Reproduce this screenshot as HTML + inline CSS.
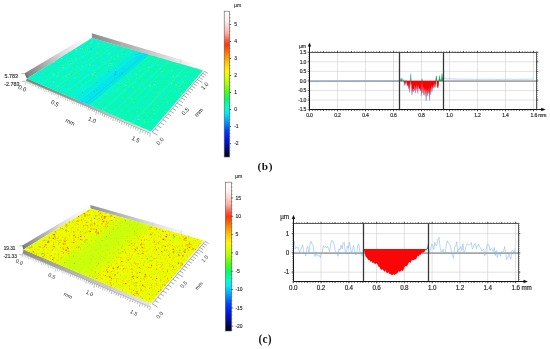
<!DOCTYPE html>
<html lang="en"><head><meta charset="utf-8"><title>Figure</title>
<style>html,body{margin:0;padding:0;background:#fff;}body{width:550px;height:349px;overflow:hidden;}svg{display:block;}</style></head>
<body>
<svg width="550" height="349" viewBox="0 0 550 349" font-family='"Liberation Sans", "DejaVu Sans", sans-serif'><defs><linearGradient id="s1lw" gradientUnits="userSpaceOnUse" x1="27" y1="78.5" x2="92" y2="38"><stop offset="0" stop-color="#7d7d7d"/><stop offset="0.25" stop-color="#a6a6a6"/><stop offset="0.55" stop-color="#dadada"/><stop offset="0.8" stop-color="#f2f2f2"/><stop offset="1" stop-color="#fcfcfc"/></linearGradient><linearGradient id="s1bw" gradientUnits="userSpaceOnUse" x1="92" y1="38" x2="203" y2="70.5"><stop offset="0" stop-color="#8e8e8e"/><stop offset="0.35" stop-color="#b4b4b4"/><stop offset="0.7" stop-color="#dedede"/><stop offset="0.92" stop-color="#fafafa"/><stop offset="1" stop-color="#ffffff"/></linearGradient><linearGradient id="s1fb" gradientUnits="userSpaceOnUse" x1="27" y1="78.5" x2="151" y2="131.3"><stop offset="0" stop-color="#808080"/><stop offset="0.4" stop-color="#9c9c9c"/><stop offset="0.75" stop-color="#c8c8c8"/><stop offset="1" stop-color="#e4e4e4"/></linearGradient><clipPath id="s1cp"><polygon points="27,78.5 151,131.3 203,70.5 92,38"/></clipPath><filter id="s1m0" x="0" y="0" width="1" height="1" color-interpolation-filters="sRGB"><feTurbulence type="fractalNoise" baseFrequency="0.22" numOctaves="2" seed="5"/><feColorMatrix type="matrix" values="0 0 0 0 0.04 0 0 0 0 0.94 0 0 0 0 0.89 4 0 0 0 -1.75"/></filter><filter id="s1m1" x="0" y="0" width="1" height="1" color-interpolation-filters="sRGB"><feTurbulence type="fractalNoise" baseFrequency="0.5" numOctaves="1" seed="8"/><feColorMatrix type="matrix" values="0 0 0 0 0.16 0 0 0 0 0.98 0 0 0 0 0.59 4 0 0 0 -2.3"/></filter><linearGradient id="s2lw" gradientUnits="userSpaceOnUse" x1="23.5" y1="249.6" x2="90.5" y2="208.5"><stop offset="0" stop-color="#7d7d7d"/><stop offset="0.25" stop-color="#a6a6a6"/><stop offset="0.55" stop-color="#dadada"/><stop offset="0.8" stop-color="#f2f2f2"/><stop offset="1" stop-color="#fcfcfc"/></linearGradient><linearGradient id="s2bw" gradientUnits="userSpaceOnUse" x1="90.5" y1="208.5" x2="203.8" y2="240.6"><stop offset="0" stop-color="#929292"/><stop offset="0.3" stop-color="#bcbcbc"/><stop offset="0.6" stop-color="#e4e4e4"/><stop offset="0.85" stop-color="#fafafa"/><stop offset="1" stop-color="#ffffff"/></linearGradient><linearGradient id="s2fb" gradientUnits="userSpaceOnUse" x1="23.5" y1="249.6" x2="150.9" y2="303"><stop offset="0" stop-color="#8c8c8c"/><stop offset="0.45" stop-color="#b8b8b8"/><stop offset="1" stop-color="#e8e8e8"/></linearGradient><clipPath id="s2cp"><polygon points="23.5,249.6 150.9,303 203.8,240.6 90.5,208.5"/></clipPath><filter id="s2m0" x="0" y="0" width="1" height="1" color-interpolation-filters="sRGB"><feTurbulence type="fractalNoise" baseFrequency="0.55" numOctaves="2" seed="4"/><feColorMatrix type="matrix" values="0 0 0 0 1 0 0 0 0 0.75 0 0 0 0 0 4 0 0 0 -2.25"/></filter><filter id="s2m1" x="0" y="0" width="1" height="1" color-interpolation-filters="sRGB"><feTurbulence type="fractalNoise" baseFrequency="0.45" numOctaves="2" seed="9"/><feColorMatrix type="matrix" values="0 0 0 0 1 0 0 0 0 0.28 0 0 0 0 0.06 7 0 0 0 -5"/></filter><filter id="s2m2" x="0" y="0" width="1" height="1" color-interpolation-filters="sRGB"><feTurbulence type="fractalNoise" baseFrequency="0.5" numOctaves="2" seed="15"/><feColorMatrix type="matrix" values="0 0 0 0 0.67 0 0 0 0 1 0 0 0 0 0.12 5 0 0 0 -3.3"/></filter><linearGradient id="cb1" x1="0" y1="0" x2="0" y2="1"><stop offset="0" stop-color="#ffffff"/><stop offset="0.07" stop-color="#ffecec"/><stop offset="0.15" stop-color="#ffaea2"/><stop offset="0.2" stop-color="#ff5a40"/><stop offset="0.23" stop-color="#ff3408"/><stop offset="0.27" stop-color="#ff6200"/><stop offset="0.31" stop-color="#ff9400"/><stop offset="0.35" stop-color="#ffc400"/><stop offset="0.41" stop-color="#fff600"/><stop offset="0.45" stop-color="#d8ff00"/><stop offset="0.5" stop-color="#a0ff00"/><stop offset="0.55" stop-color="#4cff10"/><stop offset="0.6" stop-color="#00ff60"/><stop offset="0.66" stop-color="#00ffd0"/><stop offset="0.7" stop-color="#00e8ff"/><stop offset="0.76" stop-color="#0098ff"/><stop offset="0.82" stop-color="#0040ff"/><stop offset="0.88" stop-color="#0018e0"/><stop offset="0.94" stop-color="#000a80"/><stop offset="1" stop-color="#000010"/></linearGradient><linearGradient id="cb2" x1="0" y1="0" x2="0" y2="1"><stop offset="0" stop-color="#ffffff"/><stop offset="0.07" stop-color="#ffecec"/><stop offset="0.15" stop-color="#ffaea2"/><stop offset="0.2" stop-color="#ff5a40"/><stop offset="0.23" stop-color="#ff3408"/><stop offset="0.27" stop-color="#ff6200"/><stop offset="0.31" stop-color="#ff9400"/><stop offset="0.35" stop-color="#ffc400"/><stop offset="0.41" stop-color="#fff600"/><stop offset="0.45" stop-color="#d8ff00"/><stop offset="0.5" stop-color="#a0ff00"/><stop offset="0.55" stop-color="#4cff10"/><stop offset="0.6" stop-color="#00ff60"/><stop offset="0.66" stop-color="#00ffd0"/><stop offset="0.7" stop-color="#00e8ff"/><stop offset="0.76" stop-color="#0098ff"/><stop offset="0.82" stop-color="#0040ff"/><stop offset="0.88" stop-color="#0018e0"/><stop offset="0.94" stop-color="#000a80"/><stop offset="1" stop-color="#000010"/></linearGradient></defs><polygon points="27,78.5 24.6,73.3 91.8,33.2 92,38" fill="url(#s1lw)"/>
<polygon points="92,38 91.8,33.2 203,66.3 203,70.5" fill="url(#s1bw)"/>
<line x1="121.97" y1="46.77" x2="121.97" y2="41.34" stroke="#c9c9c9" stroke-width="0.6"/>
<line x1="153.05" y1="55.88" x2="153.05" y2="50.61" stroke="#c9c9c9" stroke-width="0.6"/>
<line x1="180.8" y1="64" x2="180.8" y2="58.88" stroke="#c9c9c9" stroke-width="0.6"/>
<polygon points="27,78.5 24.6,73.3 25.8,73.5 28.5,77.9" fill="#6f6f6f"/>
<polygon points="27,78.5 151,131.3 150.6,133.5 26,80.7" fill="url(#s1fb)"/>
<line x1="26" y1="80.7" x2="150.6" y2="133.5" stroke="#9a9a9a" stroke-width="0.5"/>
<g>
<polygon points="27,78.5 151,131.3 203,70.5 92,38" fill="#0cf7b0"/>
<g clip-path="url(#s1cp)">
<rect x="26" y="37" width="178" height="95.3" filter="url(#s1m0)"/>
<rect x="26" y="37" width="178" height="95.3" filter="url(#s1m1)"/>
</g>
<polygon points="71.87,97.61 73.97,98.5 135.32,50.68 133.42,50.13" fill="#08eaf4" fill-opacity="0.2"/>
<polygon points="73.97,98.5 76.08,99.4 137.23,51.24 135.32,50.68" fill="#08eaf4" fill-opacity="0.46"/>
<polygon points="76.08,99.4 78.22,100.31 139.16,51.81 137.23,51.24" fill="#08eaf4" fill-opacity="0.65"/>
<polygon points="78.22,100.31 80.37,101.23 141.1,52.38 139.16,51.81" fill="#08eaf4" fill-opacity="0.76"/>
<polygon points="80.37,101.23 82.54,102.15 143.06,52.95 141.1,52.38" fill="#08eaf4" fill-opacity="0.8"/>
<polygon points="82.54,102.15 84.74,103.08 145.02,53.53 143.06,52.95" fill="#08eaf4" fill-opacity="0.76"/>
<polygon points="84.74,103.08 86.95,104.03 147.01,54.11 145.02,53.53" fill="#08eaf4" fill-opacity="0.65"/>
<polygon points="86.95,104.03 89.17,104.97 149,54.69 147.01,54.11" fill="#08eaf4" fill-opacity="0.46"/>
<polygon points="89.17,104.97 91.42,105.93 151.01,55.28 149,54.69" fill="#08eaf4" fill-opacity="0.2"/>
<polygon points="93.98,107.02 151,131.3 203,70.5 153.29,55.95" fill="#0cf7b0" fill-opacity="0.4"/>
<polygon points="27,78.5 71.87,97.61 133.42,50.13 92,38" fill="#0cf2e0" fill-opacity="0.22"/>
<polygon points="60.82,92.9 61.28,93.09 123.77,47.3 123.35,47.18" fill="#00ffe0" fill-opacity="0.22"/>
<polygon points="85.88,103.57 86.57,103.87 146.67,54.01 146.05,53.83" fill="#00c8ff" fill-opacity="0.28"/>
<polygon points="48.87,87.81 49.25,87.97 112.72,44.07 112.37,43.96" fill="#00f4f0" fill-opacity="0.22"/>
<polygon points="35.98,82.33 36.59,82.58 100.98,40.63 100.41,40.46" fill="#30ffb0" fill-opacity="0.24"/>
<polygon points="49.78,88.2 50.57,88.54 113.94,44.43 113.21,44.21" fill="#00ffe0" fill-opacity="0.37"/>
<polygon points="69.14,96.45 70.29,96.93 131.98,49.71 130.94,49.4" fill="#00ffe0" fill-opacity="0.37"/>
<polygon points="40.32,84.17 40.93,84.43 105.01,41.81 104.45,41.64" fill="#30ffb0" fill-opacity="0.24"/>
<polygon points="59.1,92.17 60.08,92.58 122.67,46.98 121.78,46.72" fill="#00ffa8" fill-opacity="0.23"/>
<polygon points="90.31,105.46 90.85,105.69 150.5,55.13 150.02,54.99" fill="#00ffe0" fill-opacity="0.36"/>
<polygon points="33.18,81.13 33.52,81.28 98.11,39.79 97.79,39.7" fill="#00ffa8" fill-opacity="0.35"/>
<polygon points="85.36,103.35 86.41,103.8 146.53,53.97 145.59,53.69" fill="#00b8ff" fill-opacity="0.22"/>
<polygon points="75.8,99.28 76.41,99.54 137.53,51.33 136.98,51.17" fill="#00d8ff" fill-opacity="0.24"/>
<polygon points="52.03,89.16 52.79,89.48 115.98,45.02 115.28,44.82" fill="#30ffb0" fill-opacity="0.35"/>
<polygon points="63.04,93.84 63.73,94.14 126.02,47.96 125.38,47.77" fill="#30ffb0" fill-opacity="0.49"/>
<polygon points="38.77,83.51 39.37,83.77 103.57,41.39 103,41.22" fill="#20ffb8" fill-opacity="0.25"/>
<polygon points="80.11,101.12 80.51,101.28 141.23,52.41 140.87,52.31" fill="#00c8ff" fill-opacity="0.25"/>
<polygon points="90.54,105.56 91.7,106.05 151.26,55.35 150.22,55.05" fill="#20ffb8" fill-opacity="0.3"/>
<polygon points="63.8,94.17 64.53,94.48 126.75,48.17 126.07,47.98" fill="#00f4f0" fill-opacity="0.22"/>
<polygon points="36.28,82.45 36.77,82.66 101.15,40.68 100.68,40.54" fill="#00ffe0" fill-opacity="0.22"/>
<polygon points="107.34,112.71 108.36,113.14 166.04,59.68 165.14,59.41" fill="#00f4f0" fill-opacity="0.29"/>
<polygon points="67.88,95.91 68.77,96.29 130.6,49.3 129.8,49.07" fill="#00ffe0" fill-opacity="0.48"/>
<polygon points="64.4,94.42 65.23,94.78 127.38,48.36 126.62,48.14" fill="#00f4f0" fill-opacity="0.22"/>
<polygon points="116.51,116.62 117.06,116.85 173.68,61.91 173.2,61.77" fill="#00ffa8" fill-opacity="0.32"/>
<polygon points="138.12,125.82 139.11,126.24 192.81,67.52 191.97,67.27" fill="#00ffa8" fill-opacity="0.33"/>
<polygon points="87.57,104.29 88.72,104.78 148.6,54.57 147.57,54.27" fill="#00b8ff" fill-opacity="0.27"/>
<polygon points="55.77,90.75 56.42,91.03 119.33,46 118.73,45.83" fill="#20ffb8" fill-opacity="0.4"/>
<polygon points="67.26,95.64 67.8,95.87 129.72,49.04 129.23,48.9" fill="#00ffe0" fill-opacity="0.25"/>
<polygon points="50.72,88.6 51.22,88.81 114.54,44.6 114.08,44.46" fill="#00f4f0" fill-opacity="0.45"/>
<polygon points="45.43,86.35 45.96,86.57 109.68,43.18 109.2,43.03" fill="#00ffa8" fill-opacity="0.33"/>
<polygon points="65.98,95.1 66.78,95.44 128.79,48.77 128.06,48.56" fill="#00ffa8" fill-opacity="0.41"/>
<polygon points="83.36,102.5 84.26,102.88 144.6,53.4 143.79,53.16" fill="#00c8ff" fill-opacity="0.19"/>
<polygon points="131.27,122.9 132.7,123.51 187.29,65.9 186.05,65.54" fill="#30ffb0" fill-opacity="0.32"/>
<polygon points="69.41,96.56 69.85,96.74 131.58,49.59 131.19,49.47" fill="#00f4f0" fill-opacity="0.22"/>
<polygon points="33.64,81.33 34.08,81.52 98.64,39.94 98.22,39.82" fill="#00ffa8" fill-opacity="0.23"/>
<polygon points="94.07,107.06 94.55,107.26 153.8,56.09 153.37,55.97" fill="#30ffb0" fill-opacity="0.25"/>
<polygon points="37.07,82.79 37.64,83.03 101.95,40.91 101.43,40.76" fill="#00ffe0" fill-opacity="0.22"/>
<polygon points="48.15,87.5 48.75,87.76 112.26,43.93 111.7,43.77" fill="#20ffb8" fill-opacity="0.49"/>
<polygon points="94.27,107.14 95.08,107.49 154.28,56.23 153.55,56.02" fill="#00ffe0" fill-opacity="0.45"/>
<polygon points="149.91,130.84 150.9,131.26 202.91,70.47 202.07,70.23" fill="#00f4f0" fill-opacity="0.29"/>
<polygon points="41.45,84.65 42.3,85.01 106.29,42.18 105.5,41.95" fill="#20ffb8" fill-opacity="0.34"/>
<polygon points="106.07,112.17 106.96,112.55 164.8,59.32 164.02,59.09" fill="#00ffa8" fill-opacity="0.49"/>
<polygon points="84.93,103.17 85.43,103.38 145.65,53.71 145.2,53.58" fill="#00c8ff" fill-opacity="0.25"/>
<polygon points="57.95,91.68 58.78,92.03 121.49,46.63 120.72,46.41" fill="#00ffe0" fill-opacity="0.41"/>
<polygon points="53.88,89.94 54.48,90.2 117.54,45.48 116.99,45.32" fill="#00ffa8" fill-opacity="0.31"/>
<polygon points="49.73,88.18 50.46,88.49 113.84,44.39 113.17,44.2" fill="#30ffb0" fill-opacity="0.3"/>
<polygon points="49.76,88.19 50.69,88.59 114.05,44.46 113.19,44.2" fill="#00ffa8" fill-opacity="0.44"/>
<polygon points="123.61,119.64 124.79,120.14 180.42,63.89 179.4,63.59" fill="#00ffa8" fill-opacity="0.26"/>
<polygon points="80.58,101.31 81.57,101.73 142.18,52.69 141.29,52.43" fill="#00c8ff" fill-opacity="0.26"/>
<polygon points="78.09,100.25 78.61,100.48 139.52,51.91 139.04,51.77" fill="#18e8ff" fill-opacity="0.19"/>
<polygon points="141.2,127.13 142.72,127.77 195.92,68.43 194.61,68.04" fill="#20ffb8" fill-opacity="0.22"/>
<polygon points="37.14,82.82 37.78,83.09 102.09,40.95 101.49,40.78" fill="#20ffb8" fill-opacity="0.26"/>
<polygon points="97.08,108.34 98.3,108.86 157.13,57.07 156.06,56.76" fill="#00ffe0" fill-opacity="0.34"/>
<polygon points="100.87,109.95 102,110.44 160.42,58.03 159.41,57.74" fill="#00ffe0" fill-opacity="0.45"/>
<polygon points="38.95,83.59 39.54,83.84 103.72,41.43 103.18,41.27" fill="#00ffa8" fill-opacity="0.34"/>
<polygon points="45.03,86.18 45.93,86.56 109.65,43.17 108.82,42.93" fill="#20ffb8" fill-opacity="0.23"/>
<polygon points="142.6,127.72 143.84,128.25 196.88,68.71 195.81,68.4" fill="#00f4f0" fill-opacity="0.32"/>
<polygon points="142.7,127.76 143.94,128.29 196.96,68.73 195.9,68.42" fill="#00ffa8" fill-opacity="0.5"/>
<polygon points="29.69,79.65 30.39,79.94 95.18,38.93 94.53,38.74" fill="#00f4f0" fill-opacity="0.44"/>
<polygon points="41.66,84.74 42.57,85.13 106.54,42.26 105.69,42.01" fill="#00f4f0" fill-opacity="0.4"/>
<polygon points="63.82,94.18 64.6,94.51 126.81,48.19 126.1,47.98" fill="#00ffa8" fill-opacity="0.21"/>
<polygon points="120.9,118.48 122.05,118.97 178.04,63.19 177.03,62.9" fill="#00ffe0" fill-opacity="0.36"/>
<polygon points="140.68,126.91 141.6,127.3 194.96,68.15 194.16,67.91" fill="#00ffa8" fill-opacity="0.45"/>
<polygon points="48.48,87.64 48.98,87.86 112.48,44 112.01,43.86" fill="#20ffb8" fill-opacity="0.35"/>
<polygon points="115.88,116.34 116.61,116.66 173.29,61.8 172.64,61.61" fill="#30ffb0" fill-opacity="0.33"/>
<polygon points="40.1,84.08 41.07,84.49 105.14,41.85 104.24,41.59" fill="#20ffb8" fill-opacity="0.47"/>
<polygon points="102.12,110.49 103.28,110.98 161.55,58.36 160.53,58.06" fill="#30ffb0" fill-opacity="0.33"/>
<polygon points="138.26,125.88 139.25,126.3 192.93,67.55 192.08,67.3" fill="#30ffb0" fill-opacity="0.25"/>
<polygon points="82.75,102.24 83.87,102.72 144.25,53.3 143.24,53" fill="#00d8ff" fill-opacity="0.22"/>
<polygon points="117.61,117.08 118.18,117.32 174.65,62.2 174.16,62.05" fill="#00ffa8" fill-opacity="0.34"/>
<polygon points="110.56,114.08 111.51,114.48 168.81,60.49 167.98,60.24" fill="#20ffb8" fill-opacity="0.4"/>
<polygon points="85.24,103.3 86.03,103.64 146.19,53.87 145.48,53.66" fill="#00c8ff" fill-opacity="0.28"/>
<polygon points="32.59,80.88 33.02,81.06 97.64,39.65 97.24,39.53" fill="#00ffe0" fill-opacity="0.43"/>
<polygon points="82.4,102.09 83.25,102.45 143.69,53.14 142.93,52.91" fill="#00c8ff" fill-opacity="0.19"/>
<polygon points="95.59,107.71 96.44,108.07 155.48,56.59 154.73,56.37" fill="#30ffb0" fill-opacity="0.26"/>
<polygon points="55.64,90.69 56.36,91 119.27,45.98 118.6,45.79" fill="#00f4f0" fill-opacity="0.35"/>
<polygon points="52.41,89.32 53.14,89.63 116.3,45.12 115.64,44.92" fill="#20ffb8" fill-opacity="0.48"/>
<polygon points="134.51,124.28 135.17,124.56 189.42,66.52 188.85,66.36" fill="#00f4f0" fill-opacity="0.24"/>
<polygon points="39.13,83.66 39.75,83.93 103.92,41.49 103.34,41.32" fill="#00ffe0" fill-opacity="0.4"/>
<polygon points="72.85,98.02 73.38,98.25 134.79,50.53 134.31,50.39" fill="#20ffb8" fill-opacity="0.44"/>
<polygon points="135.15,124.55 135.76,124.81 189.93,66.67 189.4,66.52" fill="#20ffb8" fill-opacity="0.24"/>
<path d="M185.6 67h1v0.8h-1zM97.6 43.5h1.2v0.9h-1.2zM107.7 53.1h0.9v0.7h-0.9zM162.8 62.1h0.8v0.6h-0.8zM173 103.6h0.6v0.5h-0.6zM114.2 58.7h0.9v0.7h-0.9zM71 58.5h0.8v0.6h-0.8zM85.2 82h0.7v0.5h-0.7z" fill="#a0ff40" fill-opacity="0.5"/>
<path d="M143.6 111.9h1.1v0.9h-1.1zM172.2 70.1h1.1v0.9h-1.1zM132.4 115.6h0.8v0.6h-0.8zM77.1 51.1h1.2v0.9h-1.2zM74.3 77h1.2v0.9h-1.2zM184.1 71.7h0.7v0.5h-0.7zM110.7 56.8h1.2v0.9h-1.2zM167.1 62.9h1.1v0.9h-1.1zM105.7 43h0.6v0.5h-0.6zM145.5 75.6h0.6v0.5h-0.6z" fill="#70ff70" fill-opacity="0.5"/>
<path d="M107.8 70.7h0.9v0.7h-0.9zM119.3 73.4h1v0.8h-1z" fill="#00b0ff" fill-opacity="0.75"/>
<path d="M62.3 64.7h0.9v0.7h-0.9zM53.5 61.5h1.2v0.9h-1.2zM130.9 98.3h0.7v0.5h-0.7zM94.3 71.9h1.1v0.9h-1.1zM53 81.7h0.9v0.7h-0.9zM175.6 84.6h1.2v0.9h-1.2zM154.2 113.5h0.7v0.6h-0.7zM179.5 87.9h1v0.8h-1zM161.4 71.1h0.8v0.6h-0.8zM82 66.3h0.6v0.5h-0.6zM133 87.2h1v0.8h-1zM86.9 45.4h1v0.8h-1z" fill="#e0ff30" fill-opacity="0.75"/>
<path d="M52.8 63.6h0.8v0.6h-0.8zM124.6 52.4h1v0.8h-1zM150.6 63.1h0.8v0.7h-0.8zM143.9 117.5h0.9v0.7h-0.9zM147.1 73.9h0.9v0.7h-0.9z" fill="#00e0ff" fill-opacity="1"/>
<path d="M57.1 87.7h0.7v0.6h-0.7zM177.8 86.2h0.8v0.6h-0.8zM75.2 49.1h1.1v0.9h-1.1zM185.2 75.7h0.9v0.7h-0.9zM151.8 119h0.7v0.6h-0.7zM109.3 53h0.7v0.6h-0.7zM90 42.8h0.9v0.7h-0.9zM138.2 119h1.1v0.8h-1.1z" fill="#90ff60" fill-opacity="0.75"/>
<path d="M101.3 44.6h0.9v0.7h-0.9zM176.5 86.1h1.1v0.8h-1.1zM127.4 87.4h1v0.8h-1zM77.3 59.6h0.9v0.8h-0.9zM94.5 42h0.7v0.5h-0.7zM133 95.6h0.7v0.5h-0.7zM104.4 104.1h1.1v0.9h-1.1zM70.6 76.5h0.7v0.6h-0.7zM121.6 86.1h0.7v0.6h-0.7zM137.4 121.1h1.1v0.9h-1.1zM173.6 96.3h0.8v0.6h-0.8zM55.8 74.2h1v0.8h-1zM111.8 65.6h0.8v0.6h-0.8z" fill="#00e0ff" fill-opacity="0.75"/>
<path d="M68.7 74.3h0.9v0.7h-0.9zM121.7 97.5h0.6v0.5h-0.6zM132.6 121.1h0.9v0.7h-0.9zM171.1 83.1h0.8v0.6h-0.8zM153.5 110h1v0.8h-1zM92.5 73.5h1.1v0.9h-1.1zM165.2 111.1h0.7v0.6h-0.7zM153.9 84.3h0.8v0.7h-0.8zM55.9 76.4h0.7v0.5h-0.7zM70.1 63.1h1.1v0.9h-1.1zM102 108.1h0.9v0.8h-0.9zM146.4 114.8h0.7v0.5h-0.7z" fill="#c8ff30" fill-opacity="0.75"/>
<path d="M143.9 57h1v0.8h-1zM81.9 101.2h1.1v0.9h-1.1zM90.4 48.6h1.6v1.3h-1.6z" fill="#00b0ff" fill-opacity="0.5"/>
<path d="M93.8 90.9h1.1v0.9h-1.1z" fill="#00b0ff" fill-opacity="1"/>
<path d="M31.6 78.7h0.9v0.7h-0.9zM111.8 96.3h0.7v0.6h-0.7zM121.3 91.4h1v0.8h-1zM99.4 74.9h0.7v0.6h-0.7zM145.3 84.9h1.2v0.9h-1.2zM142.3 104.3h0.7v0.6h-0.7zM102.6 54.5h0.8v0.6h-0.8zM71.3 74.1h0.7v0.6h-0.7zM96.3 76.7h0.8v0.6h-0.8zM112.9 100.5h0.7v0.5h-0.7zM93.7 76.1h0.9v0.7h-0.9z" fill="#00e0ff" fill-opacity="0.5"/>
<path d="M135.6 54h1v0.8h-1zM138.7 52.9h1v0.8h-1zM96.5 82h0.8v0.7h-0.8zM114.3 78.5h0.7v0.5h-0.7zM96.4 89.7h0.8v0.6h-0.8zM82.2 92.1h0.8v0.6h-0.8z" fill="#0090ff" fill-opacity="0.75"/>
<path d="M135.9 78.2h1.2v0.9h-1.2zM141.5 82.5h1v0.8h-1zM167.2 102.2h0.9v0.7h-0.9zM139.9 70.6h0.8v0.6h-0.8zM92.4 65.3h0.9v0.7h-0.9zM57.4 85.6h1.2v1h-1.2zM175.9 64.2h0.6v0.5h-0.6zM50 64.6h0.8v0.6h-0.8zM171.3 71.6h0.7v0.5h-0.7zM84.2 60.9h0.7v0.6h-0.7zM136.8 122h0.7v0.6h-0.7zM106.3 71.7h0.7v0.6h-0.7zM121 53.4h1v0.8h-1zM124.3 90.7h1v0.8h-1zM79 73.6h0.7v0.6h-0.7zM185.1 88.9h1v0.8h-1zM163.2 76.4h0.7v0.5h-0.7zM96.7 72.3h0.6v0.5h-0.6zM108 65h1.1v0.9h-1.1zM70.7 71.1h0.8v0.6h-0.8z" fill="#60ff80" fill-opacity="0.75"/>
<path d="M65.4 75.6h1.1v0.9h-1.1zM156.5 97h0.6v0.5h-0.6zM89.3 64.6h1.1v0.9h-1.1zM111.3 65.3h1v0.8h-1zM92.2 41.5h0.7v0.6h-0.7zM117.5 55.5h1.1v0.9h-1.1zM133.2 102.4h0.9v0.7h-0.9zM96.8 52.3h0.8v0.7h-0.8zM199.9 71.1h0.7v0.6h-0.7zM80 48.1h1.1v0.9h-1.1zM47.7 86.7h0.9v0.7h-0.9zM68.4 67.4h0.7v0.6h-0.7zM128.2 79.6h0.9v0.7h-0.9zM104 107.3h0.6v0.5h-0.6zM62.7 90.3h0.8v0.7h-0.8zM92.4 75.5h0.8v0.7h-0.8zM156.4 71.7h0.7v0.6h-0.7zM172.8 75.8h1.1v0.9h-1.1zM129.2 80.9h0.7v0.5h-0.7z" fill="#a0ff40" fill-opacity="0.75"/>
<path d="M125.1 84.7h1.2v1h-1.2zM181.1 93.5h1.2v0.9h-1.2zM62.8 67.2h1.1v0.8h-1.1zM91 41.9h0.6v0.5h-0.6z" fill="#e0ff30" fill-opacity="1"/>
<path d="M71.5 51.4h0.9v0.7h-0.9zM113.2 45.8h0.7v0.6h-0.7zM68 88.4h0.9v0.7h-0.9zM118.6 83.2h0.8v0.6h-0.8zM184.3 83.5h0.6v0.5h-0.6zM82.2 48.1h0.8v0.7h-0.8zM144.1 121.5h1v0.8h-1zM108 42.7h0.7v0.6h-0.7z" fill="#e0ff30" fill-opacity="0.5"/>
<path d="M72.8 73.8h0.7v0.6h-0.7zM73.7 54.1h0.6v0.5h-0.6zM125.5 53.8h1.1v0.9h-1.1zM118.1 89.8h0.8v0.6h-0.8zM90.1 57.8h0.7v0.6h-0.7zM68.6 56.2h0.7v0.6h-0.7zM157.3 65h1.2v0.9h-1.2zM177.9 75.7h1v0.8h-1z" fill="#60ff80" fill-opacity="0.5"/>
<path d="M126.6 76.3h0.7v0.6h-0.7zM155.1 81.3h0.8v0.6h-0.8zM61.3 58.1h0.9v0.7h-0.9zM74.5 95.9h1v0.8h-1zM52.7 73.8h0.9v0.8h-0.9z" fill="#90ff60" fill-opacity="1"/>
<path d="M90.5 52h0.7v0.5h-0.7zM124.7 100.7h1v0.8h-1zM99 43.6h0.6v0.5h-0.6zM121.1 82.6h0.6v0.5h-0.6zM57.4 75.5h1.2v0.9h-1.2zM138.7 70.6h0.9v0.7h-0.9zM102.4 109.8h1v0.8h-1zM163.4 70.4h0.7v0.6h-0.7zM75.8 52.2h0.9v0.7h-0.9zM174.2 73.2h0.7v0.5h-0.7z" fill="#70ff70" fill-opacity="0.75"/>
<path d="M143.4 86.1h0.6v0.5h-0.6zM107.5 47.2h0.9v0.7h-0.9zM66.5 76.7h1.1v0.9h-1.1zM139 85.1h0.8v0.7h-0.8zM160.9 68.3h0.7v0.6h-0.7zM157.9 92.1h1.1v0.9h-1.1zM42.4 73.2h1.1v0.9h-1.1zM171.6 70.8h0.9v0.7h-0.9zM101.8 62.3h0.9v0.7h-0.9z" fill="#90ff60" fill-opacity="0.5"/>
<path d="M137 57.2h0.8v0.7h-0.8zM86.8 88.2h1.2v0.9h-1.2z" fill="#00d8ff" fill-opacity="0.75"/>
<path d="M173.9 91.1h0.6v0.5h-0.6zM182.3 81.5h1.1v0.9h-1.1zM157.5 105.3h1.1v0.8h-1.1zM75.2 58.4h1.1v0.9h-1.1z" fill="#70ff70" fill-opacity="1"/>
<path d="M122.7 68.3h0.7v0.5h-0.7zM115 71.2h1.2v1h-1.2z" fill="#0090ff" fill-opacity="1"/>
<path d="M110.1 62.9h1.2v0.9h-1.2zM75.4 50.4h1.1v0.9h-1.1zM96.1 76.4h0.6v0.5h-0.6zM175.7 75.4h1.1v0.9h-1.1zM127.8 77.5h0.7v0.6h-0.7z" fill="#60ff80" fill-opacity="1"/>
<path d="M87.1 47.8h1.1v0.9h-1.1zM154 59h1.1v0.9h-1.1z" fill="#c8ff30" fill-opacity="0.5"/>
<path d="M135.6 73.8h0.9v0.7h-0.9zM75.4 69.3h0.6v0.5h-0.6zM175.8 64.3h0.8v0.6h-0.8zM137.1 107.6h0.6v0.5h-0.6zM159.7 68.5h0.7v0.5h-0.7z" fill="#a0ff40" fill-opacity="1"/>
<path d="M158.7 57.9h0.6v0.5h-0.6zM149.5 85.4h1.1v0.8h-1.1zM148.3 66.7h1.1v0.9h-1.1z" fill="#c8ff30" fill-opacity="1"/>
<path d="M110.4 71.1h1.1v0.9h-1.1z" fill="#00d8ff" fill-opacity="0.5"/>
<path d="M104.5 84.3h1.2v0.9h-1.2zM102.5 87.1h1.2v0.9h-1.2z" fill="#00d8ff" fill-opacity="1"/>
<path d="M107.8 70.9h0.7v0.5h-0.7z" fill="#0090ff" fill-opacity="0.5"/>
<path d="M114 73.6h2.2v1.8h-2.2z" fill="#0098ff" fill-opacity="0.5"/>
<path d="M121.2 72.8h1.8v1.4h-1.8z" fill="#00a0ff" fill-opacity="0.5"/>
</g>
<path d="M88.61 107.19l-0.71 3.22M90.59 108.03l-0.54 2.44M92.58 108.88l-0.54 2.44M94.58 109.73l-0.54 2.44M96.61 110.59l-0.9 4.1M98.64 111.46l-0.54 2.44M100.7 112.34l-0.54 2.44M102.77 113.22l-0.54 2.44M104.86 114.11l-0.71 3.22M106.96 115l-0.54 2.44M109.08 115.91l-0.54 2.44M111.22 116.82l-0.54 2.44M113.38 117.73l-0.71 3.22M115.55 118.66l-0.54 2.44M117.74 119.59l-0.54 2.44M119.95 120.53l-0.54 2.44M122.17 121.48l-0.71 3.22M124.42 122.44l-0.54 2.44M126.68 123.4l-0.54 2.44M128.97 124.37l-0.54 2.44M131.27 125.35l-0.71 3.22M133.59 126.34l-0.54 2.44M135.93 127.34l-0.54 2.44M138.29 128.34l-0.54 2.44M140.67 129.36l-0.9 4.1M143.07 130.38l-0.54 2.44M145.49 131.41l-0.54 2.44M147.94 132.45l-0.54 2.44M150.4 133.5l-0.71 3.22" stroke="#7c7c7c" stroke-width="0.5" fill="none"/>
<path d="M26.4 80.7l-0.9 4.1M27.92 81.35l-0.54 2.44M29.46 82l-0.54 2.44M31 82.66l-0.54 2.44M32.55 83.32l-0.71 3.22M34.12 83.99l-0.54 2.44M35.69 84.66l-0.54 2.44M37.28 85.33l-0.54 2.44M38.88 86.01l-0.71 3.22M40.48 86.7l-0.54 2.44M42.1 87.39l-0.54 2.44M43.74 88.08l-0.54 2.44M45.38 88.78l-0.71 3.22M47.03 89.49l-0.54 2.44M48.7 90.19l-0.54 2.44M50.38 90.91l-0.54 2.44M52.07 91.63l-0.71 3.22M53.77 92.35l-0.54 2.44M55.48 93.08l-0.54 2.44M57.21 93.82l-0.54 2.44M58.95 94.56l-0.9 4.1M60.7 95.31l-0.54 2.44M62.47 96.06l-0.54 2.44M64.25 96.81l-0.54 2.44M66.04 97.58l-0.71 3.22M67.84 98.35l-0.54 2.44M69.66 99.12l-0.54 2.44M71.49 99.9l-0.54 2.44M73.34 100.69l-0.71 3.22M75.19 101.48l-0.54 2.44M77.07 102.27l-0.54 2.44M78.95 103.08l-0.54 2.44M80.86 103.89l-0.71 3.22M82.77 104.7l-0.54 2.44M84.7 105.53l-0.54 2.44M86.65 106.35l-0.54 2.44" stroke="#a2a2a2" stroke-width="0.5" fill="none"/>
<path d="M152.2 132.02l5.31 3.19M154.94 128.82l3.6 2.16M157.62 125.69l3.6 2.16M160.24 122.63l3.6 2.16M162.79 119.63l3.6 2.16M165.3 116.71l3.6 2.16M167.75 113.84l3.6 2.16M170.14 111.04l3.6 2.16M172.49 108.3l3.6 2.16M174.78 105.62l3.6 2.16M177.03 102.99l5.31 3.19M179.23 100.42l3.6 2.16M181.39 97.9l3.6 2.16M183.5 95.43l3.6 2.16M185.57 93l3.6 2.16M187.6 90.63l3.6 2.16M189.59 88.31l3.6 2.16M191.54 86.02l3.6 2.16M193.45 83.79l3.6 2.16M195.33 81.59l3.6 2.16M197.17 79.44l5.31 3.19M198.98 77.33l3.6 2.16M200.75 75.25l3.6 2.16M202.49 73.22l3.6 2.16M204.2 71.22l3.6 2.16" stroke="#6e6e6e" stroke-width="0.62" fill="none"/>
<line x1="152.2" y1="132.02" x2="204.2" y2="71.22" stroke="#8f8f8f" stroke-width="0.7"/>
<text x="22.3" y="90.39" font-size="5.8" text-anchor="middle" fill="#262626" transform="rotate(25 22.3 88.3)">0.0</text>
<text x="55" y="105.39" font-size="5.8" text-anchor="middle" fill="#262626" transform="rotate(25 55 103.3)">0.5</text>
<text x="70.2" y="123.89" font-size="5.8" text-anchor="middle" fill="#262626" transform="rotate(25 70.2 121.8)">mm</text>
<text x="92.2" y="121.79" font-size="5.8" text-anchor="middle" fill="#262626" transform="rotate(25 92.2 119.7)">1.0</text>
<text x="135.7" y="141.39" font-size="5.8" text-anchor="middle" fill="#262626" transform="rotate(25 135.7 139.3)">1.5</text>
<text x="160" y="143.19" font-size="5.8" text-anchor="middle" fill="#262626" transform="rotate(-47 160 141.1)">0.0</text>
<text x="185.2" y="113.19" font-size="5.8" text-anchor="middle" fill="#262626" transform="rotate(-47 185.2 111.1)">0.5</text>
<text x="198.7" y="114.29" font-size="5.8" text-anchor="middle" fill="#262626" transform="rotate(-47 198.7 112.2)">mm</text>
<text x="204.7" y="87.89" font-size="5.8" text-anchor="middle" fill="#262626" transform="rotate(-47 204.7 85.8)">1.0</text>
<text x="18" y="77.6" font-size="5.4" text-anchor="end" fill="#222" stroke="#2a2a2a" stroke-width="0.12">5.783</text>
<text x="19.6" y="85.5" font-size="5.4" text-anchor="end" fill="#222" stroke="#2a2a2a" stroke-width="0.12">-2.783</text>
<line x1="21.5" y1="73.6" x2="24.6" y2="73.4" stroke="#8a8a8a" stroke-width="0.6"/>
<line x1="21.8" y1="81.4" x2="25.4" y2="81.2" stroke="#8a8a8a" stroke-width="0.6"/>
<polygon points="23.5,249.6 22.3,245.6 90.4,204.9 90.5,208.5" fill="url(#s2lw)"/>
<polygon points="90.5,208.5 90.4,204.9 203.8,237 203.8,240.6" fill="url(#s2bw)"/>
<line x1="121.09" y1="217.17" x2="121.09" y2="212.77" stroke="#c9c9c9" stroke-width="0.6"/>
<line x1="152.81" y1="226.16" x2="152.81" y2="221.75" stroke="#c9c9c9" stroke-width="0.6"/>
<line x1="181.14" y1="234.18" x2="181.14" y2="229.78" stroke="#c9c9c9" stroke-width="0.6"/>
<polygon points="23.5,249.6 22.3,245.6 23.5,245.8 25,249" fill="#6f6f6f"/>
<polygon points="23.5,249.6 150.9,303 150.5,307 22.5,253.6" fill="url(#s2fb)"/>
<line x1="22.5" y1="253.6" x2="150.5" y2="307" stroke="#9a9a9a" stroke-width="0.5"/>
<g>
<polygon points="23.5,249.6 150.9,303 203.8,240.6 90.5,208.5" fill="#eaff00"/>
<g clip-path="url(#s2cp)">
<rect x="22.5" y="207.5" width="182.3" height="96.5" filter="url(#s2m0)"/>
<rect x="22.5" y="207.5" width="182.3" height="96.5" filter="url(#s2m1)"/>
<rect x="22.5" y="207.5" width="182.3" height="96.5" filter="url(#s2m2)"/>
</g>
<polygon points="52.48,261.75 56.76,263.54 121.24,217.21 117.33,216.1" fill="#c0ff10" fill-opacity="0.2"/>
<polygon points="56.76,263.54 61.12,265.37 125.2,218.33 121.24,217.21" fill="#c0ff10" fill-opacity="0.46"/>
<polygon points="61.12,265.37 65.56,267.23 129.23,219.47 125.2,218.33" fill="#c0ff10" fill-opacity="0.65"/>
<polygon points="65.56,267.23 70.09,269.13 133.31,220.63 129.23,219.47" fill="#c0ff10" fill-opacity="0.76"/>
<polygon points="70.09,269.13 74.69,271.06 137.46,221.8 133.31,220.63" fill="#c0ff10" fill-opacity="0.8"/>
<polygon points="74.69,271.06 79.39,273.03 141.67,223 137.46,221.8" fill="#c0ff10" fill-opacity="0.76"/>
<polygon points="79.39,273.03 84.18,275.03 145.94,224.21 141.67,223" fill="#c0ff10" fill-opacity="0.65"/>
<polygon points="84.18,275.03 89.06,277.08 150.28,225.44 145.94,224.21" fill="#c0ff10" fill-opacity="0.46"/>
<polygon points="89.06,277.08 94.03,279.16 154.68,226.68 150.28,225.44" fill="#c0ff10" fill-opacity="0.2"/>
<path d="M142.3 294h1.4v1.1h-1.4zM151.9 235.4h1.1v0.9h-1.1zM101 224.6h1.2v0.9h-1.2zM62.2 256.1h1.2v0.9h-1.2zM156.6 242.3h0.9v0.8h-0.9zM98.5 280.2h1v0.8h-1zM136.6 243.6h0.9v0.7h-0.9zM82.8 232.3h1.4v1.1h-1.4zM145.8 300.5h1.2v0.9h-1.2zM156.1 231h1.5v1.2h-1.5zM169.8 243.6h1.4v1.1h-1.4zM72.1 221.4h1.5v1.2h-1.5z" fill="#c8ff10" fill-opacity="0.75"/>
<path d="M96.8 254.6h1v0.8h-1zM124 240.7h1.2v0.9h-1.2zM109.2 235.7h1.3v1.1h-1.3z" fill="#f4ff00" fill-opacity="1"/>
<path d="M135 286.8h1.1v0.9h-1.1zM166.1 250.7h1.1v0.9h-1.1zM81.7 214.3h0.7v0.6h-0.7zM168.7 230.4h1.2v0.9h-1.2zM138 253.9h1.5v1.2h-1.5zM147 235.3h0.7v0.6h-0.7zM161.7 247.3h1.3v1h-1.3zM57.1 253.7h1.4v1.1h-1.4zM91.3 226.2h1.1v0.9h-1.1zM136.8 245.5h1.3v1.1h-1.3zM52.1 246.4h1.2v0.9h-1.2zM135.9 256.6h1.3v1h-1.3zM70.2 250.6h1.4v1.1h-1.4zM157 273.6h1.6v1.2h-1.6zM119.6 286.3h1.4v1.1h-1.4zM114.1 263.3h1.2v0.9h-1.2zM108.4 221.6h0.8v0.7h-0.8zM151.6 293.9h1.5v1.2h-1.5zM161 237h0.8v0.6h-0.8zM30.4 250.9h1.5v1.2h-1.5z" fill="#b4ff20" fill-opacity="0.75"/>
<path d="M104.5 225.7h1.1v0.9h-1.1zM134.4 293.2h1.1v0.9h-1.1zM110.7 285.3h1.3v1.1h-1.3zM73 231.3h1.5v1.2h-1.5zM137.6 253.1h1v0.8h-1zM53.4 257.1h1.4v1.2h-1.4zM105.6 227.3h1.2v1h-1.2zM167 278.6h1.1v0.9h-1.1zM179.2 251.8h1.2v1h-1.2zM139.1 236h1v0.8h-1zM95.8 230.7h1.3v1.1h-1.3zM85.7 221.8h1.5v1.2h-1.5zM180.3 262.4h1.6v1.2h-1.6zM55.4 231.8h0.9v0.7h-0.9zM68 253.2h1.3v1.1h-1.3zM89.3 232.7h0.8v0.7h-0.8zM173.1 234.3h1.3v1.1h-1.3zM91.3 223.5h0.9v0.7h-0.9zM99.7 212.8h1.5v1.2h-1.5zM111.4 279.6h0.7v0.6h-0.7zM77.1 229.3h1.5v1.2h-1.5zM65 223.7h1.1v0.9h-1.1zM131.4 268.5h1.2v0.9h-1.2zM162.7 271.3h1.2v0.9h-1.2z" fill="#ff8c00" fill-opacity="0.75"/>
<path d="M131.5 276.4h1.6v1.2h-1.6zM144.6 274h1.6v1.3h-1.6zM90.5 224.3h1.1v0.8h-1.1zM83 225.5h1.2v0.9h-1.2zM101.9 218.8h1.2v1h-1.2zM86.4 239.3h1.2v1h-1.2zM109.9 215.9h1v0.8h-1zM28.6 247.4h1.5v1.2h-1.5zM75.7 222.9h0.8v0.6h-0.8zM123.2 268.2h1.4v1.1h-1.4zM59.8 239.9h0.8v0.6h-0.8zM156.3 264.9h1v0.8h-1zM185.4 237.3h1.6v1.2h-1.6zM90.6 228.6h1.2v0.9h-1.2zM139 271.9h1.4v1.1h-1.4zM73.2 235.1h1.4v1.1h-1.4z" fill="#ff5a10" fill-opacity="0.75"/>
<path d="M100.5 266.8h0.9v0.7h-0.9zM66.4 230.6h0.7v0.6h-0.7zM30.9 247.3h1.4v1.1h-1.4zM154.1 231.8h1.2v1h-1.2zM108.9 272h1.5v1.2h-1.5zM44.7 239.3h0.7v0.6h-0.7zM165.5 236.8h1.2v1h-1.2zM161.2 242.2h1.5v1.2h-1.5zM118.8 287h1.3v1.1h-1.3zM127.3 271.4h0.7v0.6h-0.7z" fill="#a0ff30" fill-opacity="0.5"/>
<path d="M184.4 249.3h1.3v1h-1.3zM121.1 260.9h1.3v1h-1.3zM93.9 217.9h1.3v1h-1.3zM61.7 251.2h0.8v0.7h-0.8zM133.9 243.5h0.9v0.7h-0.9zM66.2 224.5h1.1v0.9h-1.1zM142 284.7h1.5v1.2h-1.5zM80.9 219.4h1.2v0.9h-1.2zM121.3 257.5h1v0.8h-1zM171.2 277.3h0.9v0.7h-0.9zM192.7 247.9h1.3v1h-1.3zM104.1 217.6h1.3v1h-1.3zM44.9 244.1h1.6v1.3h-1.6zM179.3 250h1.1v0.9h-1.1zM138.7 267.2h1.3v1h-1.3zM90.1 225.5h0.8v0.7h-0.8zM162.3 231h1.3v1.1h-1.3zM75 236.6h1v0.8h-1zM158.1 254.3h0.9v0.7h-0.9zM141.4 247.1h1.5v1.2h-1.5zM96.7 219.3h1v0.8h-1zM134.8 250.3h0.9v0.8h-0.9zM43.5 252.9h0.8v0.7h-0.8zM65.1 243.5h0.9v0.7h-0.9zM164.6 246h1.4v1.1h-1.4zM187.7 246.5h0.9v0.7h-0.9zM155.9 228.5h1.4v1.1h-1.4zM32.6 251.1h1.5v1.2h-1.5zM107.8 266.8h1.1v0.9h-1.1zM183.4 239.3h0.9v0.7h-0.9zM98.1 211.2h1.2v1h-1.2zM50 257.9h0.8v0.6h-0.8zM42.3 256.3h1.3v1h-1.3z" fill="#ff4a10" fill-opacity="0.75"/>
<path d="M105.5 213.4h0.8v0.7h-0.8zM137.6 252.9h0.7v0.6h-0.7zM143 264.9h0.9v0.7h-0.9zM182.2 255.2h1.5v1.2h-1.5zM112.6 267.7h1.5v1.2h-1.5zM53.4 246.1h1.1v0.9h-1.1zM187.5 244.6h1v0.8h-1zM136.6 247.6h1.3v1.1h-1.3zM66.4 246.9h0.8v0.7h-0.8zM103.7 217.7h1.1v0.9h-1.1zM124.8 282.9h1.6v1.3h-1.6zM77 220.4h1.2v1h-1.2zM133 290.1h0.8v0.6h-0.8zM136.2 291.3h1.4v1.1h-1.4zM103.7 216.2h0.9v0.7h-0.9zM48.7 237.4h1.4v1.1h-1.4zM183.5 250.7h1.1v0.9h-1.1zM54.7 236.5h1.1v0.9h-1.1zM184.2 237.9h1.4v1.1h-1.4z" fill="#ff3a20" fill-opacity="0.75"/>
<path d="M142.9 247.2h1v0.8h-1zM167.8 239.7h0.9v0.7h-0.9zM97.7 227.8h1.4v1.1h-1.4zM117.8 278.1h1.4v1.1h-1.4zM196.8 238.7h1.5v1.2h-1.5zM86.9 214.1h1.1v0.9h-1.1zM123.2 265.2h1.1v0.9h-1.1zM129.7 243.4h1.4v1.2h-1.4zM183.5 259.9h1v0.8h-1z" fill="#ffb400" fill-opacity="0.5"/>
<path d="M67.6 248.1h1.2v0.9h-1.2zM150.3 233.9h1.3v1h-1.3zM83.7 213.3h1.5v1.2h-1.5zM52.5 237.8h1.5v1.2h-1.5zM106.3 221.6h0.9v0.7h-0.9zM51.7 249.5h1.2v1h-1.2zM140.5 289.6h1.1v0.9h-1.1zM102.5 220.9h1.6v1.3h-1.6zM96 229.2h1.2v1h-1.2zM78.1 216.5h1v0.8h-1zM133.6 282.7h0.8v0.7h-0.8zM95.2 271.8h0.8v0.7h-0.8zM168 255.1h0.9v0.8h-0.9zM101.1 216.4h1.3v1h-1.3zM127.5 259.5h1.3v1h-1.3zM110.8 215.3h1.3v1h-1.3zM39.5 246.5h1.2v0.9h-1.2zM52.1 258.9h1.3v1h-1.3zM62.8 243.6h1.5v1.2h-1.5z" fill="#ff2a10" fill-opacity="0.75"/>
<path d="M162.6 238.7h1.6v1.3h-1.6zM160.3 289.6h1v0.8h-1zM163.5 245.2h0.8v0.6h-0.8zM136.5 293.2h1v0.8h-1zM184.2 252h0.8v0.7h-0.8zM180.6 264.9h0.8v0.7h-0.8zM189 246.9h1.2v1h-1.2zM114.5 274.6h1v0.8h-1zM172.8 251.4h1.5v1.2h-1.5zM178.3 255h1v0.8h-1zM53.3 233.9h1.6v1.3h-1.6zM114.2 217.2h1v0.8h-1zM97.4 232.4h1.5v1.2h-1.5zM125 251.8h0.7v0.6h-0.7z" fill="#ff2a10" fill-opacity="1"/>
<path d="M116.5 257h0.9v0.7h-0.9zM94.9 231.3h1.6v1.3h-1.6zM131.1 243.1h1v0.8h-1zM50.1 251.7h0.7v0.6h-0.7zM132.1 272.6h0.8v0.6h-0.8zM178.7 255.5h0.8v0.6h-0.8zM169.2 256.8h1.4v1.1h-1.4zM168.4 280.3h0.8v0.7h-0.8zM191.4 249.1h1.1v0.8h-1.1zM62.4 252.3h1.4v1.1h-1.4zM184.6 239.8h1.2v1h-1.2zM150.6 276.7h1.3v1h-1.3z" fill="#ffa000" fill-opacity="1"/>
<path d="M111.3 220.2h1.1v0.8h-1.1zM84.2 215.4h1.4v1.1h-1.4zM141.3 240.2h0.7v0.6h-0.7zM178.2 254.1h0.8v0.6h-0.8zM79.9 236h1.4v1.1h-1.4zM149.5 260h0.8v0.6h-0.8zM129.5 244.9h0.7v0.6h-0.7zM85 232.4h1.2v0.9h-1.2zM136.6 277.1h1.2v1h-1.2zM134.3 262.6h1v0.8h-1zM141.1 243.5h1.2v1h-1.2z" fill="#ff4a10" fill-opacity="1"/>
<path d="M120.5 228.7h1.3v1h-1.3zM84.9 245.3h1.3v1h-1.3zM95.2 238.3h1.1v0.8h-1.1zM121.6 244.1h1v0.8h-1z" fill="#e8ff00" fill-opacity="0.75"/>
<path d="M93.2 220.5h1v0.8h-1zM123.7 248.4h0.8v0.7h-0.8zM61.7 252.3h1.3v1h-1.3zM170.4 238.4h0.8v0.6h-0.8zM184.9 257.2h1.5v1.2h-1.5zM93.1 219.3h0.7v0.6h-0.7z" fill="#fff0e0" fill-opacity="1"/>
<path d="M116.4 228.7h1.1v0.9h-1.1zM71.9 263.7h1.1v0.9h-1.1zM123.4 242h0.9v0.7h-0.9zM97.2 264h1v0.8h-1z" fill="#b8ff10" fill-opacity="0.75"/>
<path d="M69.1 262.9h1.1v0.9h-1.1zM95.5 237.4h1.1v0.9h-1.1z" fill="#b8ff10" fill-opacity="0.5"/>
<path d="M84.2 241.5h1.6v1.3h-1.6zM97.5 230.3h0.7v0.6h-0.7zM138.9 250.1h1.2v1h-1.2zM169.5 253.4h1v0.8h-1zM150.9 260.3h1v0.8h-1z" fill="#40ff80" fill-opacity="1"/>
<path d="M132.4 276h1.4v1.1h-1.4zM166 234h1.4v1.1h-1.4zM107.8 221.7h0.9v0.7h-0.9zM95 215.3h1.5v1.2h-1.5zM142.1 252.7h1.6v1.3h-1.6zM150.6 227h1.3v1h-1.3z" fill="#ff2a10" fill-opacity="0.5"/>
<path d="M186.9 244.3h1.5v1.2h-1.5zM188 236.2h1.3v1.1h-1.3zM100.1 230.4h1.6v1.3h-1.6zM50.1 255.6h0.8v0.6h-0.8zM179.1 237.5h1.4v1.2h-1.4zM73.2 239.6h1.5v1.2h-1.5zM152.2 259.6h1v0.8h-1zM149.6 229h1.4v1.1h-1.4zM163.7 249.8h1.4v1.1h-1.4zM161.4 246.6h0.9v0.7h-0.9zM62.3 246.7h1.2v1h-1.2zM187.7 249.7h1.3v1h-1.3z" fill="#ffb400" fill-opacity="1"/>
<path d="M166.2 250.2h0.9v0.8h-0.9zM57.3 237.8h1.3v1h-1.3zM105.9 270.4h0.9v0.7h-0.9zM86.3 230.8h1.2v0.9h-1.2zM42.6 247h1.6v1.2h-1.6zM34.1 252.5h1.1v0.9h-1.1zM81.5 215.7h0.8v0.6h-0.8zM132.9 248.2h0.9v0.7h-0.9zM137.5 263.3h1.4v1.1h-1.4zM93.9 272.9h0.8v0.6h-0.8zM145.2 275.2h0.9v0.7h-0.9zM123.4 271.7h1.1v0.9h-1.1zM153.9 241.8h1.3v1h-1.3zM160.8 262.4h0.8v0.6h-0.8zM64.2 238.3h1.5v1.2h-1.5zM114.9 260.9h0.9v0.7h-0.9zM145.9 239.1h1.2v1h-1.2zM98.9 217.6h1.1v0.9h-1.1zM78.7 245.9h1.1v0.8h-1.1z" fill="#ffa000" fill-opacity="0.75"/>
<path d="M149.3 294.2h0.7v0.6h-0.7zM81.6 239.2h1v0.8h-1zM105.9 220.7h0.9v0.7h-0.9zM106.1 269.3h1.4v1.1h-1.4zM136.8 272.4h1.2v1h-1.2zM135.4 282.1h1.5v1.2h-1.5zM104.8 216.3h1.4v1.1h-1.4zM101.1 223.2h1.4v1.2h-1.4zM143.6 285.9h1.5v1.2h-1.5zM131.6 271.7h1.2v0.9h-1.2z" fill="#ff4a10" fill-opacity="0.5"/>
<path d="M96.4 240.7h0.9v0.7h-0.9zM66.7 259.8h1.3v1h-1.3zM66.6 258.6h1.3v1h-1.3zM89.1 257.8h1.4v1.1h-1.4z" fill="#98ff30" fill-opacity="0.75"/>
<path d="M98.9 256.6h1.3v1h-1.3zM116 241h0.8v0.6h-0.8zM136.2 235.7h1.2v0.9h-1.2zM134 234.2h1.3v1h-1.3zM91.6 269.1h0.9v0.7h-0.9zM78.6 271h1v0.8h-1zM101.1 259.9h1.3v1h-1.3zM109.1 230.6h0.8v0.7h-0.8z" fill="#80ff40" fill-opacity="0.75"/>
<path d="M79.1 247.2h1v0.8h-1zM119.8 228.2h1.3v1.1h-1.3zM71.4 256.2h0.8v0.6h-0.8zM113.1 226.9h1.3v1h-1.3zM124.8 219.2h1.1v0.9h-1.1zM138.4 232h0.9v0.7h-0.9zM120.8 238.9h1.2v1h-1.2z" fill="#a8ff20" fill-opacity="0.75"/>
<path d="M80.8 217.2h0.7v0.6h-0.7zM36.5 242.4h1.1v0.9h-1.1zM83.7 228.1h1.4v1.1h-1.4zM170.5 255.1h0.8v0.6h-0.8zM165.5 235.8h1.1v0.9h-1.1zM164.2 265.9h0.8v0.7h-0.8zM185.3 235.4h1v0.8h-1zM47.4 241.1h1.3v1h-1.3z" fill="#a0ff30" fill-opacity="1"/>
<path d="M60.8 239.8h0.9v0.7h-0.9zM140.7 239.4h1.5v1.2h-1.5zM184.1 239.8h0.9v0.7h-0.9zM129.6 258.5h1.1v0.9h-1.1zM59.3 242h1.1v0.9h-1.1zM77.8 246.9h1.4v1.1h-1.4zM144.3 270h0.8v0.6h-0.8zM158.1 248.3h0.9v0.7h-0.9z" fill="#ff5a10" fill-opacity="0.5"/>
<path d="M169.3 244.2h1.1v0.9h-1.1zM171.8 265.2h1.4v1.1h-1.4zM67.5 250.7h1.6v1.3h-1.6zM164.6 284.6h1v0.8h-1zM181 252.8h0.9v0.7h-0.9zM93.4 228.2h1.2v1h-1.2zM109.5 282.3h1.4v1.1h-1.4z" fill="#ff3a20" fill-opacity="0.5"/>
<path d="M105.9 235.9h1.2v1h-1.2zM121 247.5h1.1v0.8h-1.1zM73.7 262.7h1.4v1.1h-1.4z" fill="#00e8a0" fill-opacity="0.75"/>
<path d="M111.8 274.6h0.9v0.7h-0.9zM38.2 246.3h1.2v0.9h-1.2z" fill="#40ff80" fill-opacity="0.5"/>
<path d="M117.1 227.6h0.9v0.7h-0.9z" fill="#00e8a0" fill-opacity="0.5"/>
<path d="M186.3 254.2h1.5v1.2h-1.5zM155.4 270.1h0.9v0.7h-0.9zM53.3 241.4h1.4v1.1h-1.4z" fill="#c8ff10" fill-opacity="1"/>
<path d="M110.4 231.6h0.9v0.7h-0.9z" fill="#e8ff00" fill-opacity="0.5"/>
<path d="M41.6 253h1.5v1.2h-1.5zM31 246.2h1.4v1.2h-1.4zM66.3 227.6h0.9v0.7h-0.9zM81.9 231.1h0.7v0.6h-0.7zM62.4 229.4h0.8v0.6h-0.8zM146.7 258.1h1.4v1.1h-1.4z" fill="#00e8c0" fill-opacity="0.75"/>
<path d="M97 225h1.5v1.2h-1.5zM160.6 265.5h1.1v0.9h-1.1zM92.5 225.6h0.9v0.7h-0.9zM58.9 242.3h1.3v1h-1.3zM186.3 248.7h1.3v1h-1.3z" fill="#ff8c00" fill-opacity="0.5"/>
<path d="M91.1 245.6h1v0.8h-1zM139.4 228h0.8v0.7h-0.8zM73 252.1h1.3v1h-1.3z" fill="#a8ff20" fill-opacity="1"/>
<path d="M130 278.4h1.5v1.2h-1.5zM54.8 238.9h1.4v1.2h-1.4zM93.7 211.6h0.9v0.8h-0.9zM145.2 255.4h1.4v1.1h-1.4z" fill="#b4ff20" fill-opacity="1"/>
<path d="M145.4 236h1.1v0.9h-1.1z" fill="#fff0e0" fill-opacity="0.75"/>
<path d="M65.3 249.5h1.6v1.3h-1.6zM73 242.2h1.4v1.1h-1.4zM172.8 249.1h1.3v1h-1.3zM104.1 215.9h1.2v1h-1.2zM61.7 228h0.9v0.7h-0.9zM163.7 281.3h0.8v0.6h-0.8zM62.6 248.6h1.2v1h-1.2zM107.6 272h0.8v0.6h-0.8zM80.1 239h1.1v0.9h-1.1zM44.2 246.1h0.8v0.6h-0.8z" fill="#ff5a10" fill-opacity="1"/>
<path d="M172.8 234.8h1.1v0.9h-1.1zM148.1 266.9h1.2v1h-1.2zM96.1 277.9h1.2v1h-1.2zM189.5 243.9h1.2v1h-1.2zM139.9 244.3h1.4v1.1h-1.4zM63.9 240.6h1.6v1.3h-1.6zM68.5 221.5h1.2v0.9h-1.2zM65.2 229.6h1.6v1.3h-1.6zM47.9 241.6h1.6v1.3h-1.6zM88.3 210.2h1v0.8h-1z" fill="#ff8c00" fill-opacity="1"/>
<path d="M79.7 251.6h1.1v0.9h-1.1zM66.8 263.7h1.2v0.9h-1.2zM69.1 259h1.3v1.1h-1.3z" fill="#e8ff00" fill-opacity="1"/>
<path d="M128.6 268.6h1.2v1h-1.2zM113.1 276.9h0.9v0.7h-0.9zM59 255.6h0.8v0.6h-0.8zM108.6 276.1h1.4v1.1h-1.4zM162.8 268h1.3v1h-1.3zM102.5 227.4h1.2v1h-1.2zM45.2 240.1h1.5v1.2h-1.5zM190.5 242.2h1.2v1h-1.2zM76.1 225.6h0.8v0.6h-0.8zM175.8 250.3h1.4v1.2h-1.4zM45.2 257.3h1.4v1.1h-1.4zM72.5 221.6h1.2v1h-1.2z" fill="#a0ff30" fill-opacity="0.75"/>
<path d="M94.5 275.6h1.4v1.1h-1.4zM173.9 265.5h1.3v1h-1.3zM133.9 261h1v0.8h-1zM183.8 248.9h1.4v1.2h-1.4zM148.6 293.6h1.4v1.1h-1.4zM177.2 252.3h1.3v1h-1.3zM116.9 271.8h1.5v1.2h-1.5z" fill="#40ff80" fill-opacity="0.75"/>
<path d="M116.8 267.2h1.4v1.1h-1.4zM144.7 276.7h0.9v0.8h-0.9zM47.6 240.7h1.3v1h-1.3zM118.5 252.8h0.7v0.6h-0.7zM152.2 279.2h0.7v0.6h-0.7zM109.1 276.4h1.5v1.2h-1.5zM89.6 230.9h1.2v1h-1.2zM93.7 223.2h1.4v1.1h-1.4zM107.2 222.9h0.8v0.7h-0.8zM165.6 236.1h1.3v1.1h-1.3z" fill="#ff3a20" fill-opacity="1"/>
<path d="M120.5 220.2h1.1v0.9h-1.1zM88.8 244.2h1.4v1.1h-1.4zM91.1 240.6h0.8v0.6h-0.8z" fill="#98ff30" fill-opacity="1"/>
<path d="M47.8 246.5h0.7v0.6h-0.7zM149.1 256.4h1.6v1.3h-1.6zM161.7 261h0.8v0.6h-0.8zM160.9 287.4h1.1v0.8h-1.1z" fill="#b4ff20" fill-opacity="0.5"/>
<path d="M166 244.3h1v0.8h-1zM77.6 223.9h1.3v1.1h-1.3zM141.4 246.4h1.1v0.9h-1.1zM145.5 275.6h1.3v1h-1.3zM154.2 240.6h1.2v0.9h-1.2zM174.3 269.1h1.2v0.9h-1.2zM118.7 216.4h1.4v1.1h-1.4zM60.6 257h1.5v1.2h-1.5zM134.4 285.2h1.4v1.1h-1.4zM184.2 259.1h0.7v0.6h-0.7zM171.6 249h1.2v0.9h-1.2zM152 232.5h1.5v1.2h-1.5zM158.5 240.9h1.5v1.2h-1.5zM131.7 281.9h0.9v0.7h-0.9zM159.9 235.9h1.3v1h-1.3zM150.6 260.4h1.4v1.1h-1.4zM105.7 223.7h1.6v1.3h-1.6z" fill="#ffb400" fill-opacity="0.75"/>
<path d="M120.4 230.2h1.1v0.9h-1.1z" fill="#b8ff10" fill-opacity="1"/>
<path d="M101.5 237.3h0.7v0.6h-0.7zM93.6 249.4h1.3v1.1h-1.3zM90.8 254.5h1.1v0.9h-1.1zM106.5 249.2h1v0.8h-1z" fill="#98ff30" fill-opacity="0.5"/>
<path d="M173.3 236.2h1.5v1.2h-1.5z" fill="#00e8c0" fill-opacity="1"/>
<path d="M141 230.8h1.3v1h-1.3zM105.8 250.7h0.7v0.6h-0.7z" fill="#f4ff00" fill-opacity="0.75"/>
<path d="M90.6 220.1h0.7v0.6h-0.7zM61.6 243.4h0.9v0.7h-0.9zM123.3 279.5h1.2v1h-1.2zM60.4 259.2h0.8v0.6h-0.8zM120.8 264.4h0.8v0.6h-0.8z" fill="#ffa000" fill-opacity="0.5"/>
<path d="M87.9 245.3h1.3v1h-1.3zM80.5 263h1.2v1h-1.2z" fill="#f4ff00" fill-opacity="0.5"/>
<path d="M112.8 229h1.3v1h-1.3zM129.1 220.4h0.7v0.6h-0.7zM95.6 244.7h0.8v0.6h-0.8z" fill="#ffb000" fill-opacity="0.75"/>
<path d="M107.8 261.7h1.6v1.2h-1.6z" fill="#00e8c0" fill-opacity="0.5"/>
<path d="M94.2 223.6h0.7v0.6h-0.7z" fill="#fff0e0" fill-opacity="0.5"/>
<path d="M72.8 223.8h0.8v0.7h-0.8zM159.2 248.3h1.4v1.1h-1.4zM62.8 245.3h1.5v1.2h-1.5z" fill="#c8ff10" fill-opacity="0.5"/>
<path d="M127 223h0.7v0.6h-0.7z" fill="#ffb000" fill-opacity="0.5"/>
<path d="M102.9 256.6h1.3v1.1h-1.3zM68.8 259.4h0.8v0.6h-0.8zM81.6 261.2h0.7v0.6h-0.7z" fill="#80ff40" fill-opacity="1"/>
<path d="M73 255.8h0.8v0.6h-0.8z" fill="#00e8a0" fill-opacity="1"/>
</g>
<path d="M86.54 280.28l-0.71 3.22M88.57 281.13l-0.54 2.44M90.62 281.98l-0.54 2.44M92.68 282.85l-0.54 2.44M94.76 283.72l-0.9 4.1M96.86 284.6l-0.54 2.44M98.97 285.49l-0.54 2.44M101.11 286.38l-0.54 2.44M103.25 287.28l-0.71 3.22M105.42 288.19l-0.54 2.44M107.61 289.11l-0.54 2.44M109.81 290.03l-0.54 2.44M112.03 290.96l-0.71 3.22M114.27 291.9l-0.54 2.44M116.53 292.85l-0.54 2.44M118.81 293.8l-0.54 2.44M121.11 294.76l-0.71 3.22M123.43 295.74l-0.54 2.44M125.76 296.72l-0.54 2.44M128.12 297.7l-0.54 2.44M130.5 298.7l-0.71 3.22M132.9 299.71l-0.54 2.44M135.32 300.72l-0.54 2.44M137.76 301.74l-0.54 2.44M140.23 302.78l-0.9 4.1M142.71 303.82l-0.54 2.44M145.22 304.87l-0.54 2.44M147.75 305.93l-0.54 2.44M150.3 307l-0.71 3.22" stroke="#7c7c7c" stroke-width="0.5" fill="none"/>
<path d="M22.9 253.6l-0.9 4.1M24.45 254.25l-0.54 2.44M26.01 254.9l-0.54 2.44M27.59 255.56l-0.54 2.44M29.17 256.23l-0.71 3.22M30.76 256.9l-0.54 2.44M32.37 257.57l-0.54 2.44M33.99 258.25l-0.54 2.44M35.62 258.93l-0.71 3.22M37.26 259.62l-0.54 2.44M38.91 260.31l-0.54 2.44M40.58 261.01l-0.54 2.44M42.26 261.71l-0.71 3.22M43.95 262.42l-0.54 2.44M45.65 263.14l-0.54 2.44M47.36 263.85l-0.54 2.44M49.09 264.58l-0.71 3.22M50.83 265.31l-0.54 2.44M52.59 266.04l-0.54 2.44M54.35 266.78l-0.54 2.44M56.13 267.53l-0.9 4.1M57.93 268.28l-0.54 2.44M59.73 269.04l-0.54 2.44M61.55 269.8l-0.54 2.44M63.39 270.57l-0.71 3.22M65.24 271.34l-0.54 2.44M67.1 272.13l-0.54 2.44M68.97 272.91l-0.54 2.44M70.87 273.71l-0.71 3.22M72.77 274.5l-0.54 2.44M74.69 275.31l-0.54 2.44M76.63 276.12l-0.54 2.44M78.58 276.94l-0.71 3.22M80.55 277.76l-0.54 2.44M82.53 278.59l-0.54 2.44M84.53 279.43l-0.54 2.44" stroke="#a2a2a2" stroke-width="0.5" fill="none"/>
<path d="M152.1 303.72l5.31 3.19M154.92 300.4l3.6 2.16M157.67 297.15l3.6 2.16M160.36 293.98l3.6 2.16M162.98 290.89l3.6 2.16M165.54 287.86l3.6 2.16M168.05 284.91l3.6 2.16M170.5 282.02l3.6 2.16M172.89 279.2l3.6 2.16M175.23 276.44l3.6 2.16M177.52 273.74l5.31 3.19M179.76 271.1l3.6 2.16M181.95 268.51l3.6 2.16M184.09 265.98l3.6 2.16M186.19 263.51l3.6 2.16M188.25 261.08l3.6 2.16M190.26 258.7l3.6 2.16M192.24 256.38l3.6 2.16M194.17 254.1l3.6 2.16M196.06 251.86l3.6 2.16M197.92 249.67l5.31 3.19M199.74 247.52l3.6 2.16M201.53 245.41l3.6 2.16M203.28 243.35l3.6 2.16M205 241.32l3.6 2.16" stroke="#6e6e6e" stroke-width="0.62" fill="none"/>
<line x1="152.1" y1="303.72" x2="205" y2="241.32" stroke="#8f8f8f" stroke-width="0.7"/>
<text x="19.5" y="263.81" font-size="5.3" text-anchor="middle" fill="#262626" transform="rotate(25 19.5 261.9)">0.0</text>
<text x="51.9" y="277.81" font-size="5.3" text-anchor="middle" fill="#262626" transform="rotate(25 51.9 275.9)">0.5</text>
<text x="68" y="297.41" font-size="5.3" text-anchor="middle" fill="#262626" transform="rotate(25 68 295.5)">mm</text>
<text x="89.6" y="295.11" font-size="5.3" text-anchor="middle" fill="#262626" transform="rotate(25 89.6 293.2)">1.0</text>
<text x="134" y="314.51" font-size="5.3" text-anchor="middle" fill="#262626" transform="rotate(25 134 312.6)">1.5</text>
<text x="159.5" y="316.91" font-size="5.3" text-anchor="middle" fill="#262626" transform="rotate(-47 159.5 315)">0.0</text>
<text x="183.6" y="286.51" font-size="5.3" text-anchor="middle" fill="#262626" transform="rotate(-47 183.6 284.6)">0.5</text>
<text x="198.8" y="287.61" font-size="5.3" text-anchor="middle" fill="#262626" transform="rotate(-47 198.8 285.7)">mm</text>
<text x="204.5" y="260.71" font-size="5.3" text-anchor="middle" fill="#262626" transform="rotate(-47 204.5 258.8)">1.0</text>
<text x="15.4" y="250.2" font-size="4.7" text-anchor="end" fill="#222" stroke="#2a2a2a" stroke-width="0.12">19.31</text>
<text x="16.8" y="257.9" font-size="4.7" text-anchor="end" fill="#222" stroke="#2a2a2a" stroke-width="0.12">-21.33</text>
<line x1="19.4" y1="245.9" x2="22.3" y2="245.7" stroke="#8a8a8a" stroke-width="0.6"/>
<line x1="19.2" y1="254.6" x2="22.6" y2="254.8" stroke="#8a8a8a" stroke-width="0.6"/>
<rect x="224.2" y="11.2" width="5.4" height="145.8" fill="url(#cb1)" stroke="#5a5a5a" stroke-width="0.6"/>
<path d="M229.6 153.89h0.9M229.6 150.48h0.9M229.6 147.08h0.9M229.6 143.67h0.9M229.6 140.27h0.9M229.6 136.86h0.9M229.6 133.46h0.9M229.6 130.06h0.9M229.6 126.65h0.9M229.6 123.25h0.9M229.6 119.84h0.9M229.6 116.44h0.9M229.6 113.04h0.9M229.6 109.63h0.9M229.6 106.23h0.9M229.6 102.82h0.9M229.6 99.42h0.9M229.6 96.01h0.9M229.6 92.61h0.9M229.6 89.21h0.9M229.6 85.8h0.9M229.6 82.4h0.9M229.6 78.99h0.9M229.6 75.59h0.9M229.6 72.19h0.9M229.6 68.78h0.9M229.6 65.38h0.9M229.6 61.97h0.9M229.6 58.57h0.9M229.6 55.16h0.9M229.6 51.76h0.9M229.6 48.36h0.9M229.6 44.95h0.9M229.6 41.55h0.9M229.6 38.14h0.9M229.6 34.74h0.9M229.6 31.34h0.9M229.6 27.93h0.9M229.6 24.53h0.9M229.6 21.12h0.9M229.6 17.72h0.9M229.6 14.31h0.9" stroke="#444" stroke-width="0.5" fill="none"/>
<line x1="229.6" y1="143.67" x2="231.2" y2="143.67" stroke="#333" stroke-width="0.6"/>
<text x="234.2" y="145.47" font-size="5" text-anchor="start" fill="#222" stroke="#2a2a2a" stroke-width="0.12">-2</text>
<line x1="229.6" y1="126.65" x2="231.2" y2="126.65" stroke="#333" stroke-width="0.6"/>
<text x="234.2" y="128.45" font-size="5" text-anchor="start" fill="#222" stroke="#2a2a2a" stroke-width="0.12">-1</text>
<line x1="229.6" y1="109.63" x2="231.2" y2="109.63" stroke="#333" stroke-width="0.6"/>
<text x="234.2" y="111.43" font-size="5" text-anchor="start" fill="#222" stroke="#2a2a2a" stroke-width="0.12">0</text>
<line x1="229.6" y1="92.61" x2="231.2" y2="92.61" stroke="#333" stroke-width="0.6"/>
<text x="234.2" y="94.41" font-size="5" text-anchor="start" fill="#222" stroke="#2a2a2a" stroke-width="0.12">1</text>
<line x1="229.6" y1="75.59" x2="231.2" y2="75.59" stroke="#333" stroke-width="0.6"/>
<text x="234.2" y="77.39" font-size="5" text-anchor="start" fill="#222" stroke="#2a2a2a" stroke-width="0.12">2</text>
<line x1="229.6" y1="58.57" x2="231.2" y2="58.57" stroke="#333" stroke-width="0.6"/>
<text x="234.2" y="60.37" font-size="5" text-anchor="start" fill="#222" stroke="#2a2a2a" stroke-width="0.12">3</text>
<line x1="229.6" y1="41.55" x2="231.2" y2="41.55" stroke="#333" stroke-width="0.6"/>
<text x="234.2" y="43.35" font-size="5" text-anchor="start" fill="#222" stroke="#2a2a2a" stroke-width="0.12">4</text>
<line x1="229.6" y1="24.53" x2="231.2" y2="24.53" stroke="#333" stroke-width="0.6"/>
<text x="234.2" y="26.33" font-size="5" text-anchor="start" fill="#222" stroke="#2a2a2a" stroke-width="0.12">5</text>
<text x="234" y="6.7" font-size="5" text-anchor="start" fill="#222" stroke="#2a2a2a" stroke-width="0.12">µm</text>
<rect x="225.3" y="182.2" width="6.3" height="148.8" fill="url(#cb2)" stroke="#5a5a5a" stroke-width="0.6"/>
<path d="M231.6 329.79h0.9M231.6 326.13h0.9M231.6 322.47h0.9M231.6 318.81h0.9M231.6 315.15h0.9M231.6 311.48h0.9M231.6 307.82h0.9M231.6 304.16h0.9M231.6 300.5h0.9M231.6 296.84h0.9M231.6 293.18h0.9M231.6 289.52h0.9M231.6 285.85h0.9M231.6 282.19h0.9M231.6 278.53h0.9M231.6 274.87h0.9M231.6 271.21h0.9M231.6 267.55h0.9M231.6 263.89h0.9M231.6 260.22h0.9M231.6 256.56h0.9M231.6 252.9h0.9M231.6 249.24h0.9M231.6 245.58h0.9M231.6 241.92h0.9M231.6 238.26h0.9M231.6 234.59h0.9M231.6 230.93h0.9M231.6 227.27h0.9M231.6 223.61h0.9M231.6 219.95h0.9M231.6 216.29h0.9M231.6 212.63h0.9M231.6 208.96h0.9M231.6 205.3h0.9M231.6 201.64h0.9M231.6 197.98h0.9M231.6 194.32h0.9M231.6 190.66h0.9M231.6 187h0.9M231.6 183.34h0.9" stroke="#444" stroke-width="0.5" fill="none"/>
<line x1="231.6" y1="326.13" x2="233.2" y2="326.13" stroke="#333" stroke-width="0.6"/>
<text x="235.4" y="327.93" font-size="5" text-anchor="start" fill="#222" stroke="#2a2a2a" stroke-width="0.12">-20</text>
<line x1="231.6" y1="307.82" x2="233.2" y2="307.82" stroke="#333" stroke-width="0.6"/>
<text x="235.4" y="309.62" font-size="5" text-anchor="start" fill="#222" stroke="#2a2a2a" stroke-width="0.12">-15</text>
<line x1="231.6" y1="289.52" x2="233.2" y2="289.52" stroke="#333" stroke-width="0.6"/>
<text x="235.4" y="291.32" font-size="5" text-anchor="start" fill="#222" stroke="#2a2a2a" stroke-width="0.12">-10</text>
<line x1="231.6" y1="271.21" x2="233.2" y2="271.21" stroke="#333" stroke-width="0.6"/>
<text x="235.4" y="273.01" font-size="5" text-anchor="start" fill="#222" stroke="#2a2a2a" stroke-width="0.12">-5</text>
<line x1="231.6" y1="252.9" x2="233.2" y2="252.9" stroke="#333" stroke-width="0.6"/>
<text x="235.4" y="254.7" font-size="5" text-anchor="start" fill="#222" stroke="#2a2a2a" stroke-width="0.12">0</text>
<line x1="231.6" y1="234.59" x2="233.2" y2="234.59" stroke="#333" stroke-width="0.6"/>
<text x="235.4" y="236.39" font-size="5" text-anchor="start" fill="#222" stroke="#2a2a2a" stroke-width="0.12">5</text>
<line x1="231.6" y1="216.29" x2="233.2" y2="216.29" stroke="#333" stroke-width="0.6"/>
<text x="235.4" y="218.09" font-size="5" text-anchor="start" fill="#222" stroke="#2a2a2a" stroke-width="0.12">10</text>
<line x1="231.6" y1="197.98" x2="233.2" y2="197.98" stroke="#333" stroke-width="0.6"/>
<text x="235.4" y="199.78" font-size="5" text-anchor="start" fill="#222" stroke="#2a2a2a" stroke-width="0.12">15</text>
<text x="235" y="177.7" font-size="5" text-anchor="start" fill="#222" stroke="#2a2a2a" stroke-width="0.12">µm</text>
<path d="M309.5 52.5V109.5M337.5 52.5V109.5M365.5 52.5V109.5M393.5 52.5V109.5M421.5 52.5V109.5M449.5 52.5V109.5M477.5 52.5V109.5M505.5 52.5V109.5M533.5 52.5V109.5M309.5 109.62H536.5M309.5 100.05H536.5M309.5 90.48H536.5M309.5 80.9H536.5M309.5 71.33H536.5M309.5 61.75H536.5M309.5 52.18H536.5" stroke="#cfcfcf" stroke-width="0.6" fill="none"/>
<line x1="309.5" y1="81.1" x2="536.5" y2="81.1" stroke="#8c8c8c" stroke-width="1.1"/>
<polyline points="309.5,81.79 310.9,81.63 312.3,81.69 313.7,81.56 315.1,81.53 316.5,81.77 317.9,81.77 319.3,81.38 320.7,81.62 322.1,81.62 323.5,81.25 324.9,81.47 326.3,81.28 327.7,81.43 329.1,81.33 330.5,81.54 331.9,81.3 333.3,81.17 334.7,81.31 336.1,81.19 337.5,81.2 338.9,81.46 340.3,81.13 341.7,81.18 343.1,81.3 344.5,81.4 345.9,81 347.3,81.16 348.7,81.03 350.1,80.94 351.5,80.99 352.9,80.88 354.3,81.1 355.7,80.9 357.1,81.04 358.5,80.8 359.9,80.8 361.3,81.14 362.7,81.11 364.1,81.05 365.5,80.69 366.9,80.91 368.3,80.8 369.7,80.93 371.1,80.82 372.5,80.86 373.9,80.85 375.3,80.73 376.7,80.71 378.1,80.54 379.5,80.62 380.9,80.51 382.3,80.54 383.7,80.48 385.1,80.63 386.5,80.86 387.9,80.54 389.3,80.49 390.7,80.52 392.1,80.68 393.5,80.61 394.9,80.84 396.3,80.56 397.7,80.67 399.1,80.81 400.22,80.52 400.81,78.6 401.4,80.33 401.98,77.84 402.57,80.9 403.16,81.2 403.75,79.59 404.34,85.64 404.92,80.76 405.51,84.73 406.1,80.27 406.69,82.97 407.28,86.18 407.86,84.41 408.45,88.89 409.04,82.81 409.63,92.52 410.22,84.16 410.8,73.62 411.39,85.36 411.98,95.05 412.57,88.06 413.16,92.25 413.74,88.24 414.33,90.82 414.92,84.49 415.51,93.32 416.1,84.34 416.68,90.09 417.27,85.97 417.86,93.61 418.45,84.92 419.04,88.9 419.62,88 420.21,91.24 420.8,88.44 421.39,96.32 421.98,78.6 422.56,92.9 423.15,86.85 423.74,95.23 424.33,87.64 424.92,95.57 425.5,88.37 426.09,100.98 426.68,88.27 427.27,96.2 427.86,89.68 428.44,93.86 429.03,86.98 429.62,100.77 430.21,87.55 430.8,94.68 431.38,84.53 431.97,92.15 432.56,86.55 433.15,88.18 433.74,84.16 434.32,87.78 434.91,82.79 435.5,87.53 436.09,75.92 436.68,76.55 437.26,86.9 437.85,88.33 438.44,86.14 439.03,78.51 439.62,75.51 440.2,79.22 440.79,80.33 441.38,78.96 441.97,73.51 442.56,76.88 443.14,80.33 443.9,78.52 445.3,78.58 446.7,78.91 448.1,78.95 449.5,78.77 450.9,78.71 452.3,79.02 453.7,78.98 455.1,78.97 456.5,79.11 457.9,79.12 459.3,79.17 460.7,79.18 462.1,79.11 463.5,79.25 464.9,79.24 466.3,79.11 467.7,79.41 469.1,79.22 470.5,79.17 471.9,79.34 473.3,79.39 474.7,79.17 476.1,79.4 477.5,79.42 478.9,79.33 480.3,79.24 481.7,79.47 483.1,79.39 484.5,79.39 485.9,79.2 487.3,79.35 488.7,79.19 490.1,79.45 491.5,79.39 492.9,79.27 494.3,79.18 495.7,79.34 497.1,79.42 498.5,79.46 499.9,79.3 501.3,79.43 502.7,79.19 504.1,79.17 505.5,79.42 506.9,79.37 508.3,79.17 509.7,79.22 511.1,79.16 512.5,79.33 513.9,79.4 515.3,79.33 516.7,79.14 518.1,79.33 519.5,79.29 520.9,79.26 522.3,79.25 523.7,79.25 525.1,79.05 526.5,79.33 527.9,79.38 529.3,79.01 530.7,79.03 532.1,78.98 533.5,79.19" fill="none" stroke="#7ab8ee" stroke-width="0.55" stroke-linejoin="round"/>
<polygon points="400.22,80.9 400.22,80.52 400.81,78.6 401.4,80.33 401.98,77.84 402.57,80.9 403.16,80.9 403.75,79.59 404.34,80.9 404.92,80.76 405.51,80.9 406.1,80.27 406.69,80.9 407.28,80.9 407.86,80.9 408.45,80.9 409.04,80.9 409.63,80.9 410.22,80.9 410.8,73.62 411.39,80.9 411.98,80.9 412.57,80.9 413.16,80.9 413.74,80.9 414.33,80.9 414.92,80.9 415.51,80.9 416.1,80.9 416.68,80.9 417.27,80.9 417.86,80.9 418.45,80.9 419.04,80.9 419.62,80.9 420.21,80.9 420.8,80.9 421.39,80.9 421.98,78.6 422.56,80.9 423.15,80.9 423.74,80.9 424.33,80.9 424.92,80.9 425.5,80.9 426.09,80.9 426.68,80.9 427.27,80.9 427.86,80.9 428.44,80.9 429.03,80.9 429.62,80.9 430.21,80.9 430.8,80.9 431.38,80.9 431.97,80.9 432.56,80.9 433.15,80.9 433.74,80.9 434.32,80.9 434.91,80.9 435.5,80.9 436.09,75.92 436.68,76.55 437.26,80.9 437.85,80.9 438.44,80.9 439.03,78.51 439.62,75.51 440.2,79.22 440.79,80.33 441.38,78.96 441.97,73.51 442.56,76.88 443.14,80.33 443.62,80.9" fill="#21a644"/>
<polygon points="400.22,80.9 400.22,80.9 400.81,80.9 401.4,80.9 401.98,80.9 402.57,80.9 403.16,81.2 403.75,80.9 404.34,85.64 404.92,80.9 405.51,84.73 406.1,80.9 406.69,82.97 407.28,86.18 407.86,84.41 408.45,88.89 409.04,82.81 409.63,92.52 410.22,84.16 410.8,80.9 411.39,85.36 411.98,95.05 412.57,88.06 413.16,92.25 413.74,88.24 414.33,90.82 414.92,84.49 415.51,93.32 416.1,84.34 416.68,90.09 417.27,85.97 417.86,93.61 418.45,84.92 419.04,88.9 419.62,88 420.21,91.24 420.8,88.44 421.39,96.32 421.98,80.9 422.56,92.9 423.15,86.85 423.74,95.23 424.33,87.64 424.92,95.57 425.5,88.37 426.09,100.98 426.68,88.27 427.27,96.2 427.86,89.68 428.44,93.86 429.03,86.98 429.62,100.77 430.21,87.55 430.8,94.68 431.38,84.53 431.97,92.15 432.56,86.55 433.15,88.18 433.74,84.16 434.32,87.78 434.91,82.79 435.5,87.53 436.09,80.9 436.68,80.9 437.26,86.9 437.85,88.33 438.44,86.14 439.03,80.9 439.62,80.9 440.2,80.9 440.79,80.9 441.38,80.9 441.97,80.9 442.56,80.9 443.14,80.9 443.62,80.9" fill="#ff0000"/>
<line x1="399.5" y1="52.5" x2="399.5" y2="109.5" stroke="#383838" stroke-width="1.3"/>
<line x1="443.5" y1="52.5" x2="443.5" y2="109.5" stroke="#383838" stroke-width="1.3"/>
<path d="M309.5 44.4V109.5H543.6" stroke="#161616" stroke-width="1.0" fill="none"/>
<path d="M309.5 52.5H536.5V109.5" stroke="#333" stroke-width="0.8" fill="none"/>
<line x1="309.15" y1="51.75" x2="536.5" y2="51.75" stroke="#2a2a2a" stroke-width="0.8" stroke-dasharray="0.7 2.1"/>
<line x1="309.15" y1="110.4" x2="536.5" y2="110.4" stroke="#2a2a2a" stroke-width="0.9" stroke-dasharray="0.7 2.1"/>
<line x1="308.7" y1="52.2" x2="308.7" y2="109.5" stroke="#2a2a2a" stroke-width="0.8" stroke-dasharray="0.6 1.31"/>
<line x1="537.3" y1="52.2" x2="537.3" y2="109.5" stroke="#2a2a2a" stroke-width="0.8" stroke-dasharray="0.6 1.31"/>
<path d="M309.5 52.5v-1.8M309.5 109.5v1.8M323.5 52.5v-1.3M323.5 109.5v1.3M337.5 52.5v-1.8M337.5 109.5v1.8M351.5 52.5v-1.3M351.5 109.5v1.3M365.5 52.5v-1.8M365.5 109.5v1.8M379.5 52.5v-1.3M379.5 109.5v1.3M393.5 52.5v-1.8M393.5 109.5v1.8M407.5 52.5v-1.3M407.5 109.5v1.3M421.5 52.5v-1.8M421.5 109.5v1.8M435.5 52.5v-1.3M435.5 109.5v1.3M449.5 52.5v-1.8M449.5 109.5v1.8M463.5 52.5v-1.3M463.5 109.5v1.3M477.5 52.5v-1.8M477.5 109.5v1.8M491.5 52.5v-1.3M491.5 109.5v1.3M505.5 52.5v-1.8M505.5 109.5v1.8M519.5 52.5v-1.3M519.5 109.5v1.3M533.5 52.5v-1.8M533.5 109.5v1.8M309.5 109.62h-1.9M536.5 109.62h1.9M309.5 100.05h-1.9M536.5 100.05h1.9M309.5 90.48h-1.9M536.5 90.48h1.9M309.5 80.9h-1.9M536.5 80.9h1.9M309.5 71.33h-1.9M536.5 71.33h1.9M309.5 61.75h-1.9M536.5 61.75h1.9M309.5 52.18h-1.9M536.5 52.18h1.9" stroke="#2a2a2a" stroke-width="0.7" fill="none"/>
<polygon points="309.5,42.4 307.8,46.6 311.2,46.6" fill="#111"/>
<polygon points="545.6,109.5 541.2,107.8 541.2,111.2" fill="#111"/>
<text x="309.5" y="116.7" font-size="5.04" text-anchor="middle" fill="#222" stroke="#2a2a2a" stroke-width="0.16" letter-spacing="-0.18">0.0</text>
<text x="337.5" y="116.7" font-size="5.04" text-anchor="middle" fill="#222" stroke="#2a2a2a" stroke-width="0.16" letter-spacing="-0.18">0.2</text>
<text x="365.5" y="116.7" font-size="5.04" text-anchor="middle" fill="#222" stroke="#2a2a2a" stroke-width="0.16" letter-spacing="-0.18">0.4</text>
<text x="393.5" y="116.7" font-size="5.04" text-anchor="middle" fill="#222" stroke="#2a2a2a" stroke-width="0.16" letter-spacing="-0.18">0.6</text>
<text x="421.5" y="116.7" font-size="5.04" text-anchor="middle" fill="#222" stroke="#2a2a2a" stroke-width="0.16" letter-spacing="-0.18">0.8</text>
<text x="449.5" y="116.7" font-size="5.04" text-anchor="middle" fill="#222" stroke="#2a2a2a" stroke-width="0.16" letter-spacing="-0.18">1.0</text>
<text x="477.5" y="116.7" font-size="5.04" text-anchor="middle" fill="#222" stroke="#2a2a2a" stroke-width="0.16" letter-spacing="-0.18">1.2</text>
<text x="505.5" y="116.7" font-size="5.04" text-anchor="middle" fill="#222" stroke="#2a2a2a" stroke-width="0.16" letter-spacing="-0.18">1.4</text>
<text x="530.6" y="116.7" font-size="5.04" text-anchor="start" fill="#222" stroke="#2a2a2a" stroke-width="0.16" letter-spacing="-0.18">1.6 mm</text>
<text x="306.2" y="111.45" font-size="5.04" text-anchor="end" fill="#222" stroke="#2a2a2a" stroke-width="0.16" letter-spacing="-0.18">-1.5</text>
<text x="306.2" y="101.87" font-size="5.04" text-anchor="end" fill="#222" stroke="#2a2a2a" stroke-width="0.16" letter-spacing="-0.18">-1.0</text>
<text x="306.2" y="92.3" font-size="5.04" text-anchor="end" fill="#222" stroke="#2a2a2a" stroke-width="0.16" letter-spacing="-0.18">-0.5</text>
<text x="306.2" y="82.72" font-size="5.04" text-anchor="end" fill="#222" stroke="#2a2a2a" stroke-width="0.16" letter-spacing="-0.18">0.0</text>
<text x="306.2" y="73.15" font-size="5.04" text-anchor="end" fill="#222" stroke="#2a2a2a" stroke-width="0.16" letter-spacing="-0.18">0.5</text>
<text x="306.2" y="63.57" font-size="5.04" text-anchor="end" fill="#222" stroke="#2a2a2a" stroke-width="0.16" letter-spacing="-0.18">1.0</text>
<text x="306.2" y="54" font-size="5.04" text-anchor="end" fill="#222" stroke="#2a2a2a" stroke-width="0.16" letter-spacing="-0.18">1.5</text>
<text x="305.8" y="48.1" font-size="5.04" text-anchor="end" fill="#222" stroke="#2a2a2a" stroke-width="0.16" letter-spacing="-0.18">µm</text>
<path d="M293.2 223.5V281.5M320.98 223.5V281.5M348.76 223.5V281.5M376.54 223.5V281.5M404.32 223.5V281.5M432.1 223.5V281.5M459.88 223.5V281.5M487.66 223.5V281.5M515.44 223.5V281.5M293.5 272.2H518.5M293.5 252.9H518.5M293.5 233.6H518.5" stroke="#cfcfcf" stroke-width="0.6" fill="none"/>
<line x1="293.5" y1="253.1" x2="518.5" y2="253.1" stroke="#8c8c8c" stroke-width="1.1"/>
<polyline points="293.2,246.15 294.24,241.32 295.28,249.04 296.33,247.09 297.37,248.12 298.41,247.53 299.45,252.47 300.49,250.33 301.53,247.91 302.58,244.79 303.62,252.49 304.66,253.02 305.7,255.99 306.74,247.97 307.78,246.09 308.83,253.71 309.87,244.78 310.91,241.26 311.95,243.79 312.99,245.34 314.04,251.9 315.08,256.5 316.12,251.81 317.16,255.88 318.2,255.91 319.24,255.25 320.29,257.71 321.33,253.15 322.37,251.53 323.41,245.67 324.45,247.38 325.49,246.53 326.54,247.99 327.58,246.5 328.62,248.53 329.66,251.68 330.7,243.73 331.74,240.42 332.79,241.03 333.83,243 334.87,248.88 335.91,252.46 336.95,253.2 338,256.33 339.04,248.67 340.08,250.17 341.12,245.04 342.16,248.83 343.2,243.04 344.25,242.04 345.29,252.54 346.33,254.25 347.37,245.94 348.41,248.12 349.45,242.46 350.5,247.6 351.54,253.94 352.58,249.43 353.62,245.61 354.66,250.57 355.71,255.01 356.75,253.7 357.79,245.01 358.83,244.02 359.87,251.86 360.91,253.49 361.96,256.06 363.48,249.04 364.48,251.68 365.48,256.26 366.48,257.28 367.48,258.54 368.48,260.1 369.48,259.95 370.48,261.7 371.48,261.09 372.48,262.69 373.48,262.52 374.48,263.47 375.48,263.88 376.48,262.92 377.48,264.29 378.48,266.61 379.48,266.63 380.48,269.09 381.48,269.66 382.48,269.36 383.48,270.24 384.49,271.81 385.49,270.35 386.49,272.49 387.49,272.89 388.49,272.29 389.49,273.72 390.49,274.1 391.49,274.76 392.49,274.91 393.49,274.05 394.49,274.96 395.49,273.97 396.49,273.77 397.49,272.9 398.49,271.13 399.49,271.72 400.49,271.15 401.49,270.16 402.49,271.02 403.49,269.82 404.49,266.96 405.49,265.98 406.49,266.17 407.49,265.28 408.49,263.1 409.49,261.92 410.49,262.84 411.49,260.59 412.49,260.09 413.49,259.97 414.49,259.51 415.49,259.33 416.49,258.61 417.49,255.8 418.49,256.56 419.49,254.78 420.49,254.95 421.49,252.97 422.49,252.64 423.49,252.45 424.49,251.87 425.49,249.87 426.49,250.28 426.82,249.04 427.1,248.65 427.93,244.21 428.77,250.58 429.6,251.77 430.64,248.97 431.68,244.02 432.73,244.98 433.77,249.51 434.81,242.28 435.85,245.73 436.89,245.23 437.93,239.28 438.98,237.19 440.02,246.48 441.06,251.89 442.1,252.05 443.14,249.16 444.18,253.44 445.23,252.22 446.27,244.91 447.31,240.75 448.35,243.23 449.39,243.87 450.43,245.57 451.48,252.05 452.52,256.18 453.56,258.18 454.6,247.57 455.64,245.85 456.69,241.8 457.73,252.29 458.77,248.81 459.81,249.38 460.85,246.47 461.89,250.6 462.94,243.61 463.98,252.63 465.02,250.4 466.06,247.05 467.1,243.58 468.14,244.28 469.19,245.05 470.23,244.26 471.27,242.41 472.31,248.94 473.35,247.43 474.4,244.06 475.44,243.08 476.48,248.57 477.52,246.1 478.56,244.18 479.6,247.16 480.65,247.79 481.69,251.23 482.73,250.14 483.77,249.39 484.81,255.94 485.85,251.52 486.9,245.15 487.94,243.99 488.98,245.5 490.02,250.57 491.06,248.27 492.1,249.34 493.15,251.65 494.19,247.53 495.23,255.58 496.27,250.42 497.31,257.58 498.36,253.27 499.4,253.06 500.44,256.25 501.48,251.6 502.52,252.29 503.56,251.11 504.61,246.72 505.65,253.49 506.69,259.54 507.73,258.39 508.77,253.09 509.81,257.04 510.86,259.18 511.9,250.63 512.94,250.25 513.98,252.95 515.02,248.33" fill="none" stroke="#7ab8ee" stroke-width="0.55" stroke-linejoin="round"/>
<polygon points="363.48,249.04 363.48,249.04 364.48,251.68 365.48,256.26 366.48,257.28 367.48,258.54 368.48,260.1 369.48,259.95 370.48,261.7 371.48,261.09 372.48,262.69 373.48,262.52 374.48,263.47 375.48,263.88 376.48,262.92 377.48,264.29 378.48,266.61 379.48,266.63 380.48,269.09 381.48,269.66 382.48,269.36 383.48,270.24 384.49,271.81 385.49,270.35 386.49,272.49 387.49,272.89 388.49,272.29 389.49,273.72 390.49,274.1 391.49,274.76 392.49,274.91 393.49,274.05 394.49,274.96 395.49,273.97 396.49,273.77 397.49,272.9 398.49,271.13 399.49,271.72 400.49,271.15 401.49,270.16 402.49,271.02 403.49,269.82 404.49,266.96 405.49,265.98 406.49,266.17 407.49,265.28 408.49,263.1 409.49,261.92 410.49,262.84 411.49,260.59 412.49,260.09 413.49,259.97 414.49,259.51 415.49,259.33 416.49,258.61 417.49,255.8 418.49,256.56 419.49,254.78 420.49,254.95 421.49,252.97 422.49,252.64 423.49,252.45 424.49,251.87 425.49,249.87 426.49,250.28 426.82,249.04 426.82,249.04" fill="#fb0606"/>
<polygon points="426.54,249.04 427.66,247.11 428.21,244.41 428.77,249.04" fill="#1f9a3a"/>
<line x1="363.5" y1="223.5" x2="363.5" y2="281.5" stroke="#383838" stroke-width="1.3"/>
<line x1="428.5" y1="223.5" x2="428.5" y2="281.5" stroke="#383838" stroke-width="1.3"/>
<path d="M293.5 216.7V281.5H525.9" stroke="#161616" stroke-width="1.0" fill="none"/>
<path d="M293.5 223.5H518.5V281.5" stroke="#333" stroke-width="0.8" fill="none"/>
<line x1="293.15" y1="222.75" x2="518.5" y2="222.75" stroke="#2a2a2a" stroke-width="0.8" stroke-dasharray="0.7 2.08"/>
<line x1="293.15" y1="282.4" x2="518.5" y2="282.4" stroke="#2a2a2a" stroke-width="0.9" stroke-dasharray="0.7 2.08"/>
<line x1="292.7" y1="223.2" x2="292.7" y2="281.5" stroke="#2a2a2a" stroke-width="0.8" stroke-dasharray="0.6 1.33"/>
<line x1="519.3" y1="223.2" x2="519.3" y2="281.5" stroke="#2a2a2a" stroke-width="0.8" stroke-dasharray="0.6 1.33"/>
<path d="M293.2 223.5v-1.8M293.2 281.5v1.8M307.09 223.5v-1.3M307.09 281.5v1.3M320.98 223.5v-1.8M320.98 281.5v1.8M334.87 223.5v-1.3M334.87 281.5v1.3M348.76 223.5v-1.8M348.76 281.5v1.8M362.65 223.5v-1.3M362.65 281.5v1.3M376.54 223.5v-1.8M376.54 281.5v1.8M390.43 223.5v-1.3M390.43 281.5v1.3M404.32 223.5v-1.8M404.32 281.5v1.8M418.21 223.5v-1.3M418.21 281.5v1.3M432.1 223.5v-1.8M432.1 281.5v1.8M445.99 223.5v-1.3M445.99 281.5v1.3M459.88 223.5v-1.8M459.88 281.5v1.8M473.77 223.5v-1.3M473.77 281.5v1.3M487.66 223.5v-1.8M487.66 281.5v1.8M501.55 223.5v-1.3M501.55 281.5v1.3M515.44 223.5v-1.8M515.44 281.5v1.8M293.5 272.2h-1.9M518.5 272.2h1.9M293.5 252.9h-1.9M518.5 252.9h1.9M293.5 233.6h-1.9M518.5 233.6h1.9" stroke="#2a2a2a" stroke-width="0.7" fill="none"/>
<polygon points="293.5,214.7 291.8,218.9 295.2,218.9" fill="#111"/>
<polygon points="527.9,281.5 523.5,279.8 523.5,283.2" fill="#111"/>
<text x="293.2" y="289.6" font-size="6.3" text-anchor="middle" fill="#222" stroke="#2a2a2a" stroke-width="0.16" letter-spacing="-0.18">0.0</text>
<text x="320.98" y="289.6" font-size="6.3" text-anchor="middle" fill="#222" stroke="#2a2a2a" stroke-width="0.16" letter-spacing="-0.18">0.2</text>
<text x="348.76" y="289.6" font-size="6.3" text-anchor="middle" fill="#222" stroke="#2a2a2a" stroke-width="0.16" letter-spacing="-0.18">0.4</text>
<text x="376.54" y="289.6" font-size="6.3" text-anchor="middle" fill="#222" stroke="#2a2a2a" stroke-width="0.16" letter-spacing="-0.18">0.6</text>
<text x="404.32" y="289.6" font-size="6.3" text-anchor="middle" fill="#222" stroke="#2a2a2a" stroke-width="0.16" letter-spacing="-0.18">0.8</text>
<text x="432.1" y="289.6" font-size="6.3" text-anchor="middle" fill="#222" stroke="#2a2a2a" stroke-width="0.16" letter-spacing="-0.18">1.0</text>
<text x="459.88" y="289.6" font-size="6.3" text-anchor="middle" fill="#222" stroke="#2a2a2a" stroke-width="0.16" letter-spacing="-0.18">1.2</text>
<text x="487.66" y="289.6" font-size="6.3" text-anchor="middle" fill="#222" stroke="#2a2a2a" stroke-width="0.16" letter-spacing="-0.18">1.4</text>
<text x="511.6" y="289.6" font-size="6.3" text-anchor="start" fill="#222" stroke="#2a2a2a" stroke-width="0.16" letter-spacing="-0.18">1.6 mm</text>
<text x="289.2" y="274.48" font-size="6.3" text-anchor="end" fill="#222" stroke="#2a2a2a" stroke-width="0.16" letter-spacing="-0.18">-1</text>
<text x="289.2" y="255.18" font-size="6.3" text-anchor="end" fill="#222" stroke="#2a2a2a" stroke-width="0.16" letter-spacing="-0.18">0</text>
<text x="289.2" y="235.88" font-size="6.3" text-anchor="end" fill="#222" stroke="#2a2a2a" stroke-width="0.16" letter-spacing="-0.18">1</text>
<text x="288.8" y="218.8" font-size="6.3" text-anchor="end" fill="#222" stroke="#2a2a2a" stroke-width="0.16" letter-spacing="-0.18">µm</text>
<text x="265.3" y="170.2" font-size="11.3" text-anchor="middle" fill="#1a1a1a" font-weight="bold" font-family='"Liberation Serif", "DejaVu Serif", serif' letter-spacing="0.6">(b)</text>
<text x="265.2" y="343.2" font-size="11.5" text-anchor="middle" fill="#1a1a1a" font-weight="bold" font-family='"Liberation Serif", "DejaVu Serif", serif' letter-spacing="0.2">(c)</text></svg>
</body></html>
